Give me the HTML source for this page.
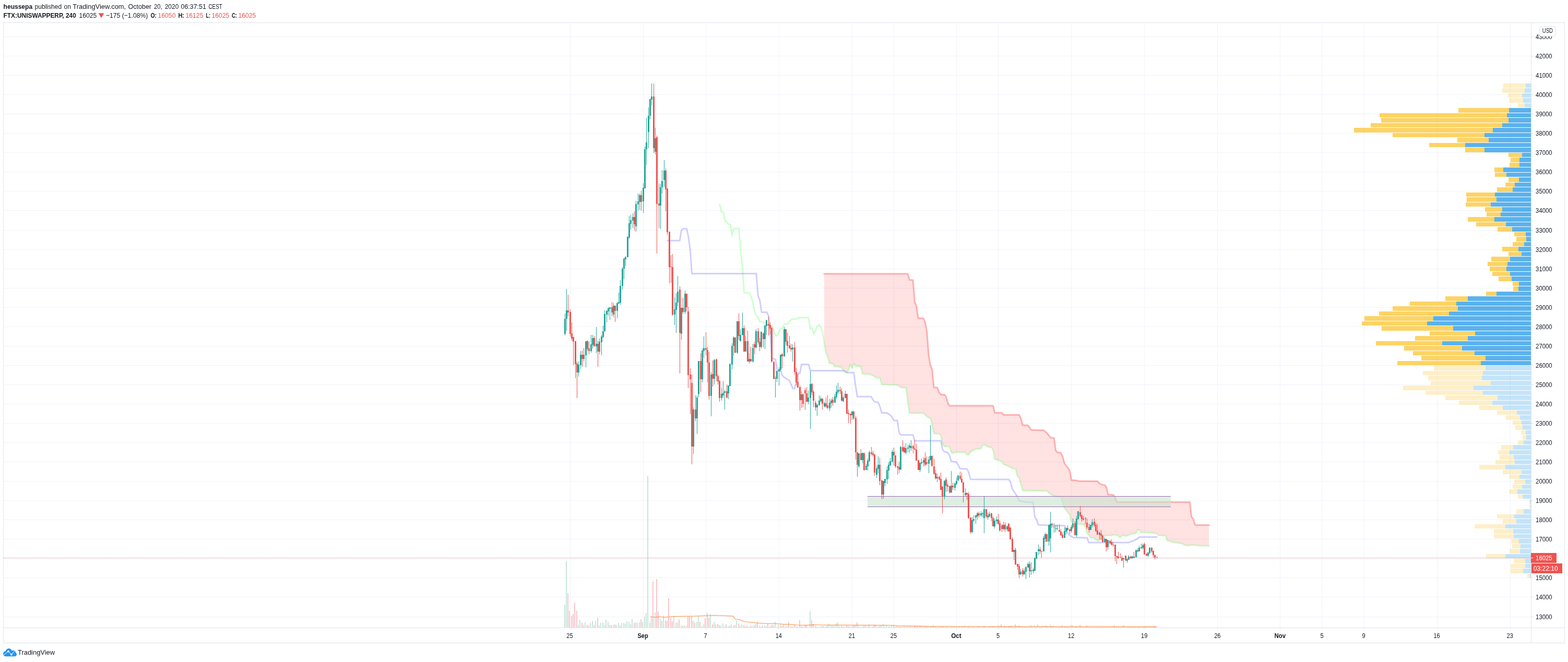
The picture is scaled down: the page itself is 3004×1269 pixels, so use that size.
<!DOCTYPE html>
<html lang="en"><head><meta charset="utf-8"><title>FTX:UNISWAPPERP 240 - TradingView</title>
<style>html,body{margin:0;padding:0;background:#fff;}body{width:3004px;height:1269px;overflow:hidden;font-family:"Liberation Sans",sans-serif;}svg{display:block;}text{font-family:"Liberation Sans",sans-serif;}</style></head><body>
<svg width="3004" height="1269" viewBox="0 0 3004 1269">
<rect width="3004" height="1269" fill="#fff"/>
<g shape-rendering="crispEdges">
<rect x="7" y="1182" width="2926" height="1" fill="#f0f3fa"/>
<rect x="7" y="1144" width="2926" height="1" fill="#f0f3fa"/>
<rect x="7" y="1107" width="2926" height="1" fill="#f0f3fa"/>
<rect x="7" y="1070" width="2926" height="1" fill="#f0f3fa"/>
<rect x="7" y="1033" width="2926" height="1" fill="#f0f3fa"/>
<rect x="7" y="996" width="2926" height="1" fill="#f0f3fa"/>
<rect x="7" y="959" width="2926" height="1" fill="#f0f3fa"/>
<rect x="7" y="922" width="2926" height="1" fill="#f0f3fa"/>
<rect x="7" y="885" width="2926" height="1" fill="#f0f3fa"/>
<rect x="7" y="848" width="2926" height="1" fill="#f0f3fa"/>
<rect x="7" y="811" width="2926" height="1" fill="#f0f3fa"/>
<rect x="7" y="774" width="2926" height="1" fill="#f0f3fa"/>
<rect x="7" y="737" width="2926" height="1" fill="#f0f3fa"/>
<rect x="7" y="700" width="2926" height="1" fill="#f0f3fa"/>
<rect x="7" y="663" width="2926" height="1" fill="#f0f3fa"/>
<rect x="7" y="626" width="2926" height="1" fill="#f0f3fa"/>
<rect x="7" y="589" width="2926" height="1" fill="#f0f3fa"/>
<rect x="7" y="552" width="2926" height="1" fill="#f0f3fa"/>
<rect x="7" y="515" width="2926" height="1" fill="#f0f3fa"/>
<rect x="7" y="478" width="2926" height="1" fill="#f0f3fa"/>
<rect x="7" y="441" width="2926" height="1" fill="#f0f3fa"/>
<rect x="7" y="403" width="2926" height="1" fill="#f0f3fa"/>
<rect x="7" y="366" width="2926" height="1" fill="#f0f3fa"/>
<rect x="7" y="329" width="2926" height="1" fill="#f0f3fa"/>
<rect x="7" y="292" width="2926" height="1" fill="#f0f3fa"/>
<rect x="7" y="255" width="2926" height="1" fill="#f0f3fa"/>
<rect x="7" y="218" width="2926" height="1" fill="#f0f3fa"/>
<rect x="7" y="181" width="2926" height="1" fill="#f0f3fa"/>
<rect x="7" y="144" width="2926" height="1" fill="#f0f3fa"/>
<rect x="7" y="107" width="2926" height="1" fill="#f0f3fa"/>
<rect x="7" y="70" width="2926" height="1" fill="#f0f3fa"/>
<rect x="1092" y="44" width="1" height="1159" fill="#f0f3fa"/>
<rect x="1232" y="44" width="1" height="1159" fill="#f0f3fa"/>
<rect x="1352" y="44" width="1" height="1159" fill="#f0f3fa"/>
<rect x="1492" y="44" width="1" height="1159" fill="#f0f3fa"/>
<rect x="1632" y="44" width="1" height="1159" fill="#f0f3fa"/>
<rect x="1712" y="44" width="1" height="1159" fill="#f0f3fa"/>
<rect x="1832" y="44" width="1" height="1159" fill="#f0f3fa"/>
<rect x="1912" y="44" width="1" height="1159" fill="#f0f3fa"/>
<rect x="2052" y="44" width="1" height="1159" fill="#f0f3fa"/>
<rect x="2192" y="44" width="1" height="1159" fill="#f0f3fa"/>
<rect x="2332" y="44" width="1" height="1159" fill="#f0f3fa"/>
<rect x="2452" y="44" width="1" height="1159" fill="#f0f3fa"/>
<rect x="2532" y="44" width="1" height="1159" fill="#f0f3fa"/>
<rect x="2613" y="44" width="1" height="1159" fill="#f0f3fa"/>
<rect x="2753" y="44" width="1" height="1159" fill="#f0f3fa"/>
<rect x="2893" y="44" width="1" height="1159" fill="#f0f3fa"/>
</g>
<g shape-rendering="crispEdges">
<rect x="1081" y="1159" width="2" height="44" fill="#c8e6dc"/>
<rect x="1084" y="1076" width="2" height="127" fill="#c8e6dc"/>
<rect x="1087" y="1137" width="2" height="66" fill="#fbc5c9"/>
<rect x="1090" y="1171" width="2" height="32" fill="#fbc5c9"/>
<rect x="1094" y="1181" width="2" height="22" fill="#fbc5c9"/>
<rect x="1097" y="1177" width="2" height="26" fill="#fbc5c9"/>
<rect x="1100" y="1155" width="2" height="48" fill="#fbc5c9"/>
<rect x="1104" y="1171" width="2" height="32" fill="#fbc5c9"/>
<rect x="1107" y="1198" width="2" height="5" fill="#c8e6dc"/>
<rect x="1110" y="1189" width="2" height="14" fill="#c8e6dc"/>
<rect x="1114" y="1194" width="2" height="9" fill="#fbc5c9"/>
<rect x="1117" y="1198" width="2" height="5" fill="#c8e6dc"/>
<rect x="1120" y="1193" width="2" height="10" fill="#c8e6dc"/>
<rect x="1124" y="1198" width="2" height="5" fill="#fbc5c9"/>
<rect x="1127" y="1200" width="2" height="3" fill="#fbc5c9"/>
<rect x="1130" y="1194" width="2" height="9" fill="#c8e6dc"/>
<rect x="1134" y="1190" width="2" height="13" fill="#c8e6dc"/>
<rect x="1137" y="1198" width="2" height="5" fill="#fbc5c9"/>
<rect x="1140" y="1190" width="2" height="13" fill="#c8e6dc"/>
<rect x="1144" y="1184" width="2" height="19" fill="#fbc5c9"/>
<rect x="1147" y="1199" width="2" height="4" fill="#c8e6dc"/>
<rect x="1150" y="1194" width="2" height="9" fill="#c8e6dc"/>
<rect x="1154" y="1193" width="2" height="10" fill="#c8e6dc"/>
<rect x="1157" y="1198" width="2" height="5" fill="#c8e6dc"/>
<rect x="1160" y="1188" width="2" height="15" fill="#c8e6dc"/>
<rect x="1164" y="1192" width="2" height="11" fill="#c8e6dc"/>
<rect x="1167" y="1198" width="2" height="5" fill="#c8e6dc"/>
<rect x="1170" y="1198" width="2" height="5" fill="#fbc5c9"/>
<rect x="1174" y="1198" width="2" height="5" fill="#c8e6dc"/>
<rect x="1177" y="1197" width="2" height="6" fill="#fbc5c9"/>
<rect x="1180" y="1198" width="2" height="5" fill="#c8e6dc"/>
<rect x="1184" y="1194" width="2" height="9" fill="#c8e6dc"/>
<rect x="1187" y="1199" width="2" height="4" fill="#c8e6dc"/>
<rect x="1190" y="1194" width="2" height="9" fill="#c8e6dc"/>
<rect x="1194" y="1194" width="2" height="9" fill="#c8e6dc"/>
<rect x="1197" y="1196" width="2" height="7" fill="#c8e6dc"/>
<rect x="1200" y="1191" width="2" height="12" fill="#c8e6dc"/>
<rect x="1204" y="1192" width="2" height="11" fill="#c8e6dc"/>
<rect x="1207" y="1197" width="2" height="6" fill="#c8e6dc"/>
<rect x="1210" y="1187" width="2" height="16" fill="#c8e6dc"/>
<rect x="1214" y="1194" width="2" height="9" fill="#fbc5c9"/>
<rect x="1217" y="1193" width="2" height="10" fill="#c8e6dc"/>
<rect x="1220" y="1194" width="2" height="9" fill="#c8e6dc"/>
<rect x="1224" y="1193" width="2" height="10" fill="#c8e6dc"/>
<rect x="1227" y="1187" width="2" height="16" fill="#fbc5c9"/>
<rect x="1230" y="1192" width="2" height="11" fill="#c8e6dc"/>
<rect x="1234" y="1182" width="2" height="21" fill="#c8e6dc"/>
<rect x="1237" y="1175" width="2" height="28" fill="#c8e6dc"/>
<rect x="1240" y="912" width="2" height="291" fill="#c8e6dc"/>
<rect x="1244" y="1193" width="2" height="10" fill="#c8e6dc"/>
<rect x="1247" y="1182" width="2" height="21" fill="#c8e6dc"/>
<rect x="1250" y="1115" width="2" height="88" fill="#fbc5c9"/>
<rect x="1254" y="1174" width="2" height="29" fill="#c8e6dc"/>
<rect x="1257" y="1110" width="2" height="93" fill="#fbc5c9"/>
<rect x="1260" y="1172" width="2" height="31" fill="#fbc5c9"/>
<rect x="1264" y="1187" width="2" height="16" fill="#c8e6dc"/>
<rect x="1267" y="1190" width="2" height="13" fill="#c8e6dc"/>
<rect x="1270" y="1180" width="2" height="23" fill="#c8e6dc"/>
<rect x="1274" y="1189" width="2" height="14" fill="#fbc5c9"/>
<rect x="1277" y="1190" width="2" height="13" fill="#fbc5c9"/>
<rect x="1280" y="1147" width="2" height="56" fill="#fbc5c9"/>
<rect x="1284" y="1184" width="2" height="19" fill="#fbc5c9"/>
<rect x="1287" y="1191" width="2" height="12" fill="#fbc5c9"/>
<rect x="1290" y="1180" width="2" height="23" fill="#c8e6dc"/>
<rect x="1294" y="1194" width="2" height="9" fill="#c8e6dc"/>
<rect x="1297" y="1193" width="2" height="10" fill="#c8e6dc"/>
<rect x="1300" y="1187" width="2" height="16" fill="#fbc5c9"/>
<rect x="1304" y="1199" width="2" height="4" fill="#c8e6dc"/>
<rect x="1307" y="1200" width="2" height="3" fill="#fbc5c9"/>
<rect x="1310" y="1199" width="2" height="4" fill="#c8e6dc"/>
<rect x="1314" y="1200" width="2" height="3" fill="#fbc5c9"/>
<rect x="1317" y="1182" width="2" height="21" fill="#fbc5c9"/>
<rect x="1320" y="1182" width="2" height="21" fill="#fbc5c9"/>
<rect x="1324" y="1180" width="2" height="23" fill="#fbc5c9"/>
<rect x="1327" y="1190" width="2" height="13" fill="#c8e6dc"/>
<rect x="1330" y="1194" width="2" height="9" fill="#fbc5c9"/>
<rect x="1334" y="1192" width="2" height="11" fill="#c8e6dc"/>
<rect x="1337" y="1181" width="2" height="22" fill="#c8e6dc"/>
<rect x="1340" y="1192" width="2" height="11" fill="#fbc5c9"/>
<rect x="1344" y="1200" width="2" height="3" fill="#c8e6dc"/>
<rect x="1347" y="1197" width="2" height="6" fill="#c8e6dc"/>
<rect x="1350" y="1185" width="2" height="18" fill="#fbc5c9"/>
<rect x="1354" y="1175" width="2" height="28" fill="#fbc5c9"/>
<rect x="1357" y="1184" width="2" height="19" fill="#fbc5c9"/>
<rect x="1360" y="1177" width="2" height="26" fill="#c8e6dc"/>
<rect x="1364" y="1197" width="2" height="6" fill="#fbc5c9"/>
<rect x="1367" y="1192" width="2" height="11" fill="#c8e6dc"/>
<rect x="1370" y="1197" width="2" height="6" fill="#fbc5c9"/>
<rect x="1374" y="1196" width="2" height="7" fill="#fbc5c9"/>
<rect x="1377" y="1198" width="2" height="5" fill="#fbc5c9"/>
<rect x="1380" y="1199" width="2" height="4" fill="#c8e6dc"/>
<rect x="1384" y="1195" width="2" height="8" fill="#c8e6dc"/>
<rect x="1387" y="1201" width="2" height="2" fill="#c8e6dc"/>
<rect x="1390" y="1197" width="2" height="6" fill="#fbc5c9"/>
<rect x="1394" y="1200" width="2" height="3" fill="#c8e6dc"/>
<rect x="1397" y="1199" width="2" height="4" fill="#c8e6dc"/>
<rect x="1400" y="1197" width="2" height="6" fill="#c8e6dc"/>
<rect x="1404" y="1199" width="2" height="4" fill="#c8e6dc"/>
<rect x="1407" y="1198" width="2" height="5" fill="#fbc5c9"/>
<rect x="1410" y="1190" width="2" height="13" fill="#c8e6dc"/>
<rect x="1414" y="1195" width="2" height="8" fill="#fbc5c9"/>
<rect x="1417" y="1200" width="2" height="3" fill="#c8e6dc"/>
<rect x="1420" y="1197" width="2" height="6" fill="#c8e6dc"/>
<rect x="1424" y="1198" width="2" height="5" fill="#fbc5c9"/>
<rect x="1427" y="1201" width="2" height="2" fill="#c8e6dc"/>
<rect x="1430" y="1199" width="2" height="4" fill="#fbc5c9"/>
<rect x="1434" y="1201" width="2" height="2" fill="#c8e6dc"/>
<rect x="1437" y="1200" width="2" height="3" fill="#fbc5c9"/>
<rect x="1440" y="1200" width="2" height="3" fill="#c8e6dc"/>
<rect x="1444" y="1198" width="2" height="5" fill="#fbc5c9"/>
<rect x="1447" y="1196" width="2" height="7" fill="#c8e6dc"/>
<rect x="1450" y="1192" width="2" height="11" fill="#fbc5c9"/>
<rect x="1454" y="1200" width="2" height="3" fill="#fbc5c9"/>
<rect x="1457" y="1201" width="2" height="2" fill="#c8e6dc"/>
<rect x="1460" y="1199" width="2" height="4" fill="#fbc5c9"/>
<rect x="1464" y="1199" width="2" height="4" fill="#c8e6dc"/>
<rect x="1467" y="1200" width="2" height="3" fill="#c8e6dc"/>
<rect x="1470" y="1195" width="2" height="8" fill="#fbc5c9"/>
<rect x="1474" y="1201" width="2" height="2" fill="#fbc5c9"/>
<rect x="1477" y="1198" width="2" height="5" fill="#fbc5c9"/>
<rect x="1480" y="1198" width="2" height="5" fill="#fbc5c9"/>
<rect x="1484" y="1192" width="2" height="11" fill="#c8e6dc"/>
<rect x="1487" y="1202" width="2" height="1" fill="#c8e6dc"/>
<rect x="1490" y="1198" width="2" height="5" fill="#c8e6dc"/>
<rect x="1494" y="1198" width="2" height="5" fill="#c8e6dc"/>
<rect x="1497" y="1200" width="2" height="3" fill="#fbc5c9"/>
<rect x="1500" y="1197" width="2" height="6" fill="#c8e6dc"/>
<rect x="1504" y="1201" width="2" height="2" fill="#fbc5c9"/>
<rect x="1507" y="1201" width="2" height="2" fill="#fbc5c9"/>
<rect x="1510" y="1192" width="2" height="11" fill="#fbc5c9"/>
<rect x="1514" y="1201" width="2" height="2" fill="#fbc5c9"/>
<rect x="1517" y="1201" width="2" height="2" fill="#c8e6dc"/>
<rect x="1521" y="1198" width="2" height="5" fill="#fbc5c9"/>
<rect x="1524" y="1201" width="2" height="2" fill="#fbc5c9"/>
<rect x="1527" y="1201" width="2" height="2" fill="#fbc5c9"/>
<rect x="1531" y="1189" width="2" height="14" fill="#fbc5c9"/>
<rect x="1534" y="1199" width="2" height="4" fill="#c8e6dc"/>
<rect x="1537" y="1201" width="2" height="2" fill="#fbc5c9"/>
<rect x="1541" y="1199" width="2" height="4" fill="#fbc5c9"/>
<rect x="1544" y="1199" width="2" height="4" fill="#fbc5c9"/>
<rect x="1547" y="1202" width="2" height="1" fill="#c8e6dc"/>
<rect x="1551" y="1172" width="2" height="31" fill="#c8e6dc"/>
<rect x="1554" y="1189" width="2" height="14" fill="#fbc5c9"/>
<rect x="1557" y="1196" width="2" height="7" fill="#fbc5c9"/>
<rect x="1561" y="1200" width="2" height="3" fill="#fbc5c9"/>
<rect x="1564" y="1201" width="2" height="2" fill="#c8e6dc"/>
<rect x="1567" y="1202" width="2" height="1" fill="#c8e6dc"/>
<rect x="1571" y="1201" width="2" height="2" fill="#c8e6dc"/>
<rect x="1574" y="1200" width="2" height="3" fill="#fbc5c9"/>
<rect x="1577" y="1200" width="2" height="3" fill="#c8e6dc"/>
<rect x="1581" y="1201" width="2" height="2" fill="#fbc5c9"/>
<rect x="1584" y="1199" width="2" height="4" fill="#fbc5c9"/>
<rect x="1587" y="1195" width="2" height="8" fill="#c8e6dc"/>
<rect x="1591" y="1199" width="2" height="4" fill="#c8e6dc"/>
<rect x="1594" y="1200" width="2" height="3" fill="#fbc5c9"/>
<rect x="1597" y="1199" width="2" height="4" fill="#c8e6dc"/>
<rect x="1601" y="1195" width="2" height="8" fill="#c8e6dc"/>
<rect x="1604" y="1193" width="2" height="10" fill="#c8e6dc"/>
<rect x="1607" y="1201" width="2" height="2" fill="#fbc5c9"/>
<rect x="1611" y="1200" width="2" height="3" fill="#fbc5c9"/>
<rect x="1614" y="1201" width="2" height="2" fill="#c8e6dc"/>
<rect x="1617" y="1201" width="2" height="2" fill="#c8e6dc"/>
<rect x="1621" y="1199" width="2" height="4" fill="#fbc5c9"/>
<rect x="1624" y="1200" width="2" height="3" fill="#fbc5c9"/>
<rect x="1627" y="1201" width="2" height="2" fill="#fbc5c9"/>
<rect x="1631" y="1200" width="2" height="3" fill="#c8e6dc"/>
<rect x="1634" y="1199" width="2" height="4" fill="#fbc5c9"/>
<rect x="1637" y="1199" width="2" height="4" fill="#fbc5c9"/>
<rect x="1641" y="1193" width="2" height="10" fill="#fbc5c9"/>
<rect x="1644" y="1200" width="2" height="3" fill="#c8e6dc"/>
<rect x="1647" y="1202" width="2" height="1" fill="#fbc5c9"/>
<rect x="1651" y="1201" width="2" height="2" fill="#c8e6dc"/>
<rect x="1654" y="1200" width="2" height="3" fill="#fbc5c9"/>
<rect x="1657" y="1199" width="2" height="4" fill="#c8e6dc"/>
<rect x="1661" y="1201" width="2" height="2" fill="#c8e6dc"/>
<rect x="1664" y="1197" width="2" height="6" fill="#c8e6dc"/>
<rect x="1667" y="1202" width="2" height="1" fill="#fbc5c9"/>
<rect x="1671" y="1201" width="2" height="2" fill="#fbc5c9"/>
<rect x="1674" y="1197" width="2" height="6" fill="#fbc5c9"/>
<rect x="1677" y="1199" width="2" height="4" fill="#c8e6dc"/>
<rect x="1681" y="1201" width="2" height="2" fill="#c8e6dc"/>
<rect x="1684" y="1200" width="2" height="3" fill="#fbc5c9"/>
<rect x="1687" y="1198" width="2" height="5" fill="#fbc5c9"/>
<rect x="1691" y="1196" width="2" height="7" fill="#c8e6dc"/>
<rect x="1694" y="1201" width="2" height="2" fill="#c8e6dc"/>
<rect x="1697" y="1198" width="2" height="5" fill="#c8e6dc"/>
<rect x="1701" y="1201" width="2" height="2" fill="#c8e6dc"/>
<rect x="1704" y="1201" width="2" height="2" fill="#c8e6dc"/>
<rect x="1707" y="1199" width="2" height="4" fill="#c8e6dc"/>
<rect x="1711" y="1198" width="2" height="5" fill="#fbc5c9"/>
<rect x="1714" y="1201" width="2" height="2" fill="#fbc5c9"/>
<rect x="1717" y="1200" width="2" height="3" fill="#fbc5c9"/>
<rect x="1721" y="1200" width="2" height="3" fill="#fbc5c9"/>
<rect x="1724" y="1201" width="2" height="2" fill="#c8e6dc"/>
<rect x="1727" y="1201" width="2" height="2" fill="#fbc5c9"/>
<rect x="1731" y="1199" width="2" height="4" fill="#fbc5c9"/>
<rect x="1734" y="1202" width="2" height="1" fill="#c8e6dc"/>
<rect x="1737" y="1200" width="2" height="3" fill="#c8e6dc"/>
<rect x="1741" y="1200" width="2" height="3" fill="#c8e6dc"/>
<rect x="1744" y="1200" width="2" height="3" fill="#c8e6dc"/>
<rect x="1747" y="1202" width="2" height="1" fill="#fbc5c9"/>
<rect x="1751" y="1199" width="2" height="4" fill="#fbc5c9"/>
<rect x="1754" y="1200" width="2" height="3" fill="#fbc5c9"/>
<rect x="1757" y="1201" width="2" height="2" fill="#fbc5c9"/>
<rect x="1761" y="1200" width="2" height="3" fill="#c8e6dc"/>
<rect x="1764" y="1200" width="2" height="3" fill="#c8e6dc"/>
<rect x="1767" y="1202" width="2" height="1" fill="#c8e6dc"/>
<rect x="1771" y="1201" width="2" height="2" fill="#fbc5c9"/>
<rect x="1774" y="1201" width="2" height="2" fill="#fbc5c9"/>
<rect x="1777" y="1201" width="2" height="2" fill="#c8e6dc"/>
<rect x="1781" y="1200" width="2" height="3" fill="#c8e6dc"/>
<rect x="1784" y="1201" width="2" height="2" fill="#fbc5c9"/>
<rect x="1787" y="1199" width="2" height="4" fill="#fbc5c9"/>
<rect x="1791" y="1201" width="2" height="2" fill="#fbc5c9"/>
<rect x="1794" y="1202" width="2" height="1" fill="#c8e6dc"/>
<rect x="1797" y="1202" width="2" height="1" fill="#fbc5c9"/>
<rect x="1801" y="1201" width="2" height="2" fill="#fbc5c9"/>
<rect x="1804" y="1201" width="2" height="2" fill="#fbc5c9"/>
<rect x="1807" y="1201" width="2" height="2" fill="#c8e6dc"/>
<rect x="1811" y="1200" width="2" height="3" fill="#fbc5c9"/>
<rect x="1814" y="1202" width="2" height="1" fill="#fbc5c9"/>
<rect x="1817" y="1202" width="2" height="1" fill="#fbc5c9"/>
<rect x="1821" y="1201" width="2" height="2" fill="#c8e6dc"/>
<rect x="1824" y="1202" width="2" height="1" fill="#fbc5c9"/>
<rect x="1827" y="1201" width="2" height="2" fill="#c8e6dc"/>
<rect x="1831" y="1201" width="2" height="2" fill="#c8e6dc"/>
<rect x="1834" y="1202" width="2" height="1" fill="#c8e6dc"/>
<rect x="1837" y="1201" width="2" height="2" fill="#fbc5c9"/>
<rect x="1841" y="1201" width="2" height="2" fill="#fbc5c9"/>
<rect x="1844" y="1202" width="2" height="1" fill="#fbc5c9"/>
<rect x="1847" y="1199" width="2" height="4" fill="#c8e6dc"/>
<rect x="1851" y="1202" width="2" height="1" fill="#fbc5c9"/>
<rect x="1854" y="1201" width="2" height="2" fill="#fbc5c9"/>
<rect x="1857" y="1201" width="2" height="2" fill="#fbc5c9"/>
<rect x="1861" y="1202" width="2" height="1" fill="#c8e6dc"/>
<rect x="1864" y="1201" width="2" height="2" fill="#c8e6dc"/>
<rect x="1867" y="1202" width="2" height="1" fill="#c8e6dc"/>
<rect x="1871" y="1200" width="2" height="3" fill="#c8e6dc"/>
<rect x="1874" y="1201" width="2" height="2" fill="#fbc5c9"/>
<rect x="1877" y="1201" width="2" height="2" fill="#c8e6dc"/>
<rect x="1881" y="1202" width="2" height="1" fill="#c8e6dc"/>
<rect x="1884" y="1199" width="2" height="4" fill="#c8e6dc"/>
<rect x="1887" y="1201" width="2" height="2" fill="#fbc5c9"/>
<rect x="1891" y="1202" width="2" height="1" fill="#c8e6dc"/>
<rect x="1894" y="1201" width="2" height="2" fill="#c8e6dc"/>
<rect x="1897" y="1200" width="2" height="3" fill="#fbc5c9"/>
<rect x="1901" y="1200" width="2" height="3" fill="#fbc5c9"/>
<rect x="1904" y="1201" width="2" height="2" fill="#c8e6dc"/>
<rect x="1907" y="1202" width="2" height="1" fill="#c8e6dc"/>
<rect x="1911" y="1199" width="2" height="4" fill="#fbc5c9"/>
<rect x="1914" y="1201" width="2" height="2" fill="#fbc5c9"/>
<rect x="1917" y="1197" width="2" height="6" fill="#fbc5c9"/>
<rect x="1921" y="1201" width="2" height="2" fill="#c8e6dc"/>
<rect x="1924" y="1200" width="2" height="3" fill="#fbc5c9"/>
<rect x="1927" y="1201" width="2" height="2" fill="#c8e6dc"/>
<rect x="1931" y="1200" width="2" height="3" fill="#fbc5c9"/>
<rect x="1934" y="1200" width="2" height="3" fill="#fbc5c9"/>
<rect x="1937" y="1199" width="2" height="4" fill="#fbc5c9"/>
<rect x="1941" y="1202" width="2" height="1" fill="#c8e6dc"/>
<rect x="1944" y="1197" width="2" height="6" fill="#fbc5c9"/>
<rect x="1947" y="1201" width="2" height="2" fill="#fbc5c9"/>
<rect x="1951" y="1199" width="2" height="4" fill="#fbc5c9"/>
<rect x="1954" y="1202" width="2" height="1" fill="#c8e6dc"/>
<rect x="1957" y="1201" width="2" height="2" fill="#fbc5c9"/>
<rect x="1961" y="1201" width="2" height="2" fill="#c8e6dc"/>
<rect x="1964" y="1201" width="2" height="2" fill="#c8e6dc"/>
<rect x="1967" y="1201" width="2" height="2" fill="#c8e6dc"/>
<rect x="1971" y="1201" width="2" height="2" fill="#fbc5c9"/>
<rect x="1974" y="1198" width="2" height="5" fill="#c8e6dc"/>
<rect x="1977" y="1201" width="2" height="2" fill="#c8e6dc"/>
<rect x="1981" y="1199" width="2" height="4" fill="#c8e6dc"/>
<rect x="1984" y="1202" width="2" height="1" fill="#c8e6dc"/>
<rect x="1987" y="1197" width="2" height="6" fill="#c8e6dc"/>
<rect x="1991" y="1201" width="2" height="2" fill="#fbc5c9"/>
<rect x="1994" y="1201" width="2" height="2" fill="#c8e6dc"/>
<rect x="1997" y="1199" width="2" height="4" fill="#c8e6dc"/>
<rect x="2001" y="1199" width="2" height="4" fill="#c8e6dc"/>
<rect x="2004" y="1199" width="2" height="4" fill="#fbc5c9"/>
<rect x="2007" y="1201" width="2" height="2" fill="#c8e6dc"/>
<rect x="2011" y="1198" width="2" height="5" fill="#c8e6dc"/>
<rect x="2014" y="1200" width="2" height="3" fill="#fbc5c9"/>
<rect x="2017" y="1199" width="2" height="4" fill="#c8e6dc"/>
<rect x="2021" y="1201" width="2" height="2" fill="#c8e6dc"/>
<rect x="2024" y="1202" width="2" height="1" fill="#c8e6dc"/>
<rect x="2028" y="1201" width="2" height="2" fill="#fbc5c9"/>
<rect x="2031" y="1201" width="2" height="2" fill="#fbc5c9"/>
<rect x="2034" y="1199" width="2" height="4" fill="#fbc5c9"/>
<rect x="2038" y="1200" width="2" height="3" fill="#c8e6dc"/>
<rect x="2041" y="1201" width="2" height="2" fill="#c8e6dc"/>
<rect x="2044" y="1201" width="2" height="2" fill="#fbc5c9"/>
<rect x="2048" y="1202" width="2" height="1" fill="#fbc5c9"/>
<rect x="2051" y="1198" width="2" height="5" fill="#c8e6dc"/>
<rect x="2054" y="1199" width="2" height="4" fill="#c8e6dc"/>
<rect x="2058" y="1201" width="2" height="2" fill="#fbc5c9"/>
<rect x="2061" y="1200" width="2" height="3" fill="#c8e6dc"/>
<rect x="2064" y="1202" width="2" height="1" fill="#c8e6dc"/>
<rect x="2068" y="1198" width="2" height="5" fill="#fbc5c9"/>
<rect x="2071" y="1201" width="2" height="2" fill="#fbc5c9"/>
<rect x="2074" y="1202" width="2" height="1" fill="#fbc5c9"/>
<rect x="2078" y="1201" width="2" height="2" fill="#c8e6dc"/>
<rect x="2081" y="1199" width="2" height="4" fill="#fbc5c9"/>
<rect x="2084" y="1201" width="2" height="2" fill="#fbc5c9"/>
<rect x="2088" y="1201" width="2" height="2" fill="#c8e6dc"/>
<rect x="2091" y="1201" width="2" height="2" fill="#c8e6dc"/>
<rect x="2094" y="1201" width="2" height="2" fill="#fbc5c9"/>
<rect x="2098" y="1201" width="2" height="2" fill="#fbc5c9"/>
<rect x="2101" y="1201" width="2" height="2" fill="#fbc5c9"/>
<rect x="2104" y="1201" width="2" height="2" fill="#c8e6dc"/>
<rect x="2108" y="1201" width="2" height="2" fill="#fbc5c9"/>
<rect x="2111" y="1201" width="2" height="2" fill="#fbc5c9"/>
<rect x="2114" y="1201" width="2" height="2" fill="#c8e6dc"/>
<rect x="2118" y="1201" width="2" height="2" fill="#fbc5c9"/>
<rect x="2121" y="1202" width="2" height="1" fill="#c8e6dc"/>
<rect x="2124" y="1201" width="2" height="2" fill="#fbc5c9"/>
<rect x="2128" y="1201" width="2" height="2" fill="#fbc5c9"/>
<rect x="2131" y="1201" width="2" height="2" fill="#fbc5c9"/>
<rect x="2134" y="1199" width="2" height="4" fill="#fbc5c9"/>
<rect x="2138" y="1201" width="2" height="2" fill="#fbc5c9"/>
<rect x="2141" y="1201" width="2" height="2" fill="#fbc5c9"/>
<rect x="2144" y="1202" width="2" height="1" fill="#fbc5c9"/>
<rect x="2148" y="1202" width="2" height="1" fill="#fbc5c9"/>
<rect x="2151" y="1198" width="2" height="5" fill="#c8e6dc"/>
<rect x="2154" y="1201" width="2" height="2" fill="#fbc5c9"/>
<rect x="2158" y="1201" width="2" height="2" fill="#c8e6dc"/>
<rect x="2161" y="1201" width="2" height="2" fill="#c8e6dc"/>
<rect x="2164" y="1201" width="2" height="2" fill="#fbc5c9"/>
<rect x="2168" y="1201" width="2" height="2" fill="#c8e6dc"/>
<rect x="2171" y="1201" width="2" height="2" fill="#fbc5c9"/>
<rect x="2174" y="1202" width="2" height="1" fill="#c8e6dc"/>
<rect x="2178" y="1202" width="2" height="1" fill="#fbc5c9"/>
<rect x="2181" y="1201" width="2" height="2" fill="#c8e6dc"/>
<rect x="2184" y="1201" width="2" height="2" fill="#c8e6dc"/>
<rect x="2188" y="1201" width="2" height="2" fill="#c8e6dc"/>
<rect x="2191" y="1201" width="2" height="2" fill="#fbc5c9"/>
<rect x="2194" y="1200" width="2" height="3" fill="#fbc5c9"/>
<rect x="2198" y="1201" width="2" height="2" fill="#c8e6dc"/>
<rect x="2201" y="1202" width="2" height="1" fill="#c8e6dc"/>
<rect x="2204" y="1202" width="2" height="1" fill="#fbc5c9"/>
<rect x="2208" y="1201" width="2" height="2" fill="#fbc5c9"/>
<rect x="2211" y="1200" width="2" height="3" fill="#fbc5c9"/>
<rect x="2214" y="1201" width="2" height="2" fill="#fbc5c9"/>
</g>
<polygon points="1579.0,524.7 1739.1,524.7 1742.4,536.4 1749.1,536.8 1752.5,579.0 1755.8,587.1 1759.1,609.9 1769.1,609.9 1772.5,617.6 1775.8,636.0 1779.1,680.1 1782.5,700.4 1785.8,708.5 1789.1,742.6 1795.8,743.0 1799.2,751.8 1802.5,756.6 1809.2,756.6 1812.5,760.2 1815.8,772.3 1819.2,777.7 1902.6,777.7 1905.9,791.3 1919.2,791.3 1922.6,795.3 1952.6,795.3 1955.9,802.0 1959.3,814.7 1969.3,815.3 1975.9,824.1 1999.3,824.7 2006.0,830.3 2012.6,838.8 2019.3,839.7 2022.6,863.1 2026.0,867.2 2032.6,867.8 2036.0,875.6 2039.3,888.1 2049.3,901.3 2052.7,920.3 2062.7,920.9 2066.0,922.3 2102.7,922.4 2106.0,926.7 2112.7,929.4 2116.0,929.8 2119.4,933.1 2122.7,947.8 2126.0,948.5 2132.7,948.5 2136.0,952.4 2139.4,962.5 2279.5,962.5 2282.8,991.0 2286.1,994.7 2289.5,1005.7 2292.8,1006.6 2316.2,1006.6 2316.2,1046.3 2299.5,1046.3 2292.8,1045.2 2282.8,1044.9 2276.1,1045.8 2269.5,1044.9 2266.1,1042.5 2259.5,1041.2 2249.4,1039.7 2239.4,1037.3 2236.1,1036.0 2232.8,1026.8 2219.4,1026.3 2216.1,1022.6 2209.4,1021.7 2202.7,1020.8 2186.1,1020.4 2182.7,1015.8 2179.4,1015.8 2176.1,1022.2 2169.4,1023.2 2162.7,1025.6 2159.4,1027.2 2156.1,1027.8 2152.7,1025.9 2149.4,1026.8 2146.0,1030.5 2142.7,1028.1 2139.4,1025.4 2132.7,1025.6 2129.4,1026.5 2112.7,1026.5 2109.4,1031.4 2106.0,1036.0 2102.7,1036.4 2099.3,1034.2 2096.0,1031.4 2089.3,1030.5 2086.0,1025.9 2082.7,1021.9 2079.3,1010.0 2076.0,1005.3 2066.0,1004.7 2059.3,1001.3 2052.7,1000.6 2049.3,986.6 2039.3,974.1 2036.0,963.1 2032.6,952.8 2026.0,952.2 2019.3,950.6 2012.6,947.5 2006.0,941.3 1985.9,940.6 1959.3,940.3 1955.9,928.8 1952.6,916.3 1949.2,913.1 1945.9,899.0 1939.2,897.6 1929.2,892.2 1922.6,890.2 1919.2,884.0 1912.6,882.5 1905.9,880.4 1902.6,862.6 1899.2,857.8 1892.5,856.4 1885.9,852.7 1882.5,853.4 1879.2,860.3 1869.2,860.8 1859.2,866.4 1855.9,871.8 1852.5,871.8 1849.2,867.0 1829.2,867.0 1825.8,869.1 1822.5,867.3 1819.2,856.6 1809.2,855.4 1805.8,851.2 1802.5,835.5 1799.2,831.6 1789.1,830.9 1785.8,812.5 1782.5,802.2 1775.8,798.5 1769.1,791.9 1742.4,791.9 1739.1,768.4 1735.8,743.4 1725.8,742.6 1719.1,737.9 1689.1,737.1 1685.7,724.6 1679.1,724.3 1672.4,719.9 1665.7,717.6 1652.4,716.7 1649.1,702.5 1639.0,701.6 1635.7,697.2 1632.4,705.7 1629.0,699.4 1625.7,709.6 1622.4,714.2 1615.7,709.8 1612.4,704.1 1605.7,703.3 1599.0,702.4 1595.7,697.2 1589.0,696.5 1585.7,683.8 1582.3,676.5 1579.0,657.0" fill="rgba(255,0,0,0.115)"/>
<polyline points="1245.7,1181.8 1254.3,1183.4 1264.0,1182.2 1271.7,1183.4 1287.3,1181.8 1310.6,1181.4 1330.0,1181.1 1349.4,1180.3 1368.8,1179.7 1388.2,1180.3 1404.3,1181.0 1408.9,1187.2 1414.7,1187.4 1425.2,1191.2 1429.9,1192.2 1443.8,1193.2 1450.8,1194.4 1470.6,1195.3 1484.6,1195.4 1499.7,1196.5 1517.2,1197.1 1527.7,1198.2 1548.7,1198.5 1555.6,1197.6 1581.3,1198.2 1660.0,1198.5 1712.0,1198.6 1720.0,1199.7 1772.0,1200.5 1830.0,1200.9 1950.0,1201.2 2100.0,1201.4 2215.5,1201.5" fill="none" stroke="rgb(255,140,60)" stroke-opacity="0.8" stroke-width="1.3" stroke-linejoin="round"/>
<polyline points="1278.8,461.3 1302.2,461.3 1305.5,441.0 1308.8,438.5 1315.5,438.5 1318.8,453.5 1322.2,478.5 1325.5,524.5 1448.9,524.5 1452.3,567.5 1455.6,574.9 1458.9,598.4 1468.9,598.4 1472.3,605.0 1475.6,637.4 1478.9,687.0 1485.6,688.8 1489.0,709.0 1495.6,711.0 1499.0,720.0 1502.3,723.4 1512.3,729.3 1519.0,744.7 1522.3,744.7 1525.6,733.0 1529.0,715.7 1532.3,715.7 1535.6,698.4 1549.0,698.4 1552.3,710.5 1615.7,710.5 1622.4,714.3 1635.7,714.3 1639.0,739.0 1642.4,760.3 1669.1,760.3 1672.4,766.5 1675.7,770.2 1682.4,771.3 1685.7,779.4 1689.1,791.5 1699.1,791.5 1705.8,796.0 1709.1,799.6 1712.4,805.9 1719.1,805.9 1722.4,829.0 1725.8,833.8 1749.1,833.8 1752.5,844.9 1802.5,844.9 1805.8,861.3 1809.2,865.8 1815.8,867.7 1819.2,873.2 1822.5,884.5 1832.5,885.6 1835.8,891.4 1839.2,898.3 1852.5,899.0 1855.9,905.3 1859.2,918.8 1932.6,919.1 1935.9,924.1 1939.2,936.6 1945.9,947.5 1949.2,952.2 1952.6,960.0 1965.9,962.5 1979.3,963.1 1982.6,991.3 1985.9,995.9 1989.3,1005.9 2006.0,1006.9 2039.3,1007.8 2042.6,1013.1 2046.0,1022.5 2049.3,1026.3 2056.0,1030.3 2082.7,1030.9 2086.0,1040.1 2162.7,1040.1 2166.1,1038.2 2169.4,1037.5 2179.4,1032.7 2182.7,1029.6 2216.1,1029.4" fill="none" stroke="rgba(0,0,255,0.19)" stroke-width="3" stroke-linejoin="miter" stroke-miterlimit="10" stroke-linecap="square"/>
<polyline points="1378.9,392.2 1382.2,405.7 1385.6,406.5 1388.9,422.3 1395.6,429.6 1398.9,430.4 1402.2,449.9 1405.6,438.8 1408.9,437.7 1415.6,438.0 1418.9,479.3 1422.2,508.7 1425.6,560.9 1435.6,561.3 1438.9,567.5 1442.3,580.4 1445.6,596.9 1448.9,605.4 1452.3,608.0 1455.6,616.4 1462.3,617.1 1465.6,622.6 1478.9,624.5 1482.3,631.8 1485.6,643.6 1489.0,643.6 1495.6,630.0 1499.0,629.3 1502.3,621.2 1509.0,621.2 1515.6,613.1 1519.0,611.6 1525.6,611.3 1529.0,608.7 1549.0,608.7 1552.3,630.0 1555.7,628.9 1559.0,640.3 1565.7,625.6 1569.0,622.9 1572.3,627.0 1575.7,635.8 1579.0,657.0 1582.3,676.5 1585.7,683.8 1589.0,696.5 1595.7,697.2 1599.0,702.4 1605.7,703.3 1612.4,704.1 1615.7,709.8 1622.4,714.2 1625.7,709.6 1629.0,699.4 1632.4,705.7 1635.7,697.2 1639.0,701.6 1649.1,702.5 1652.4,716.7 1665.7,717.6 1672.4,719.9 1679.1,724.3 1685.7,724.6 1689.1,737.1 1719.1,737.9 1725.8,742.6 1735.8,743.4 1739.1,768.4 1742.4,791.9 1769.1,791.9 1775.8,798.5 1782.5,802.2 1785.8,812.5 1789.1,830.9 1799.2,831.6 1802.5,835.5 1805.8,851.2 1809.2,855.4 1819.2,856.6 1822.5,867.3 1825.8,869.1 1829.2,867.0 1849.2,867.0 1852.5,871.8 1855.9,871.8 1859.2,866.4 1869.2,860.8 1879.2,860.3 1882.5,853.4 1885.9,852.7 1892.5,856.4 1899.2,857.8 1902.6,862.6 1905.9,880.4 1912.6,882.5 1919.2,884.0 1922.6,890.2 1929.2,892.2 1939.2,897.6 1945.9,899.0 1949.2,913.1 1952.6,916.3 1955.9,928.8 1959.3,940.3 1985.9,940.6 2006.0,941.3 2012.6,947.5 2019.3,950.6 2026.0,952.2 2032.6,952.8 2036.0,963.1 2039.3,974.1 2049.3,986.6 2052.7,1000.6 2059.3,1001.3 2066.0,1004.7 2076.0,1005.3 2079.3,1010.0 2082.7,1021.9 2086.0,1025.9 2089.3,1030.5 2096.0,1031.4 2099.3,1034.2 2102.7,1036.4 2106.0,1036.0 2109.4,1031.4 2112.7,1026.5 2129.4,1026.5 2132.7,1025.6 2139.4,1025.4 2142.7,1028.1 2146.0,1030.5 2149.4,1026.8 2152.7,1025.9 2156.1,1027.8 2159.4,1027.2 2162.7,1025.6 2169.4,1023.2 2176.1,1022.2 2179.4,1015.8 2182.7,1015.8 2186.1,1020.4 2202.7,1020.8 2209.4,1021.7 2216.1,1022.6 2219.4,1026.3 2232.8,1026.8 2236.1,1036.0 2239.4,1037.3 2249.4,1039.7 2259.5,1041.2 2266.1,1042.5 2269.5,1044.9 2276.1,1045.8 2282.8,1044.9 2292.8,1045.2 2299.5,1046.3 2316.2,1046.3" fill="none" stroke="rgba(0,255,0,0.19)" stroke-width="3" stroke-linejoin="miter" stroke-miterlimit="10" stroke-linecap="square"/>
<polyline points="1579.0,524.7 1739.1,524.7 1742.4,536.4 1749.1,536.8 1752.5,579.0 1755.8,587.1 1759.1,609.9 1769.1,609.9 1772.5,617.6 1775.8,636.0 1779.1,680.1 1782.5,700.4 1785.8,708.5 1789.1,742.6 1795.8,743.0 1799.2,751.8 1802.5,756.6 1809.2,756.6 1812.5,760.2 1815.8,772.3 1819.2,777.7 1902.6,777.7 1905.9,791.3 1919.2,791.3 1922.6,795.3 1952.6,795.3 1955.9,802.0 1959.3,814.7 1969.3,815.3 1975.9,824.1 1999.3,824.7 2006.0,830.3 2012.6,838.8 2019.3,839.7 2022.6,863.1 2026.0,867.2 2032.6,867.8 2036.0,875.6 2039.3,888.1 2049.3,901.3 2052.7,920.3 2062.7,920.9 2066.0,922.3 2102.7,922.4 2106.0,926.7 2112.7,929.4 2116.0,929.8 2119.4,933.1 2122.7,947.8 2126.0,948.5 2132.7,948.5 2136.0,952.4 2139.4,962.5 2279.5,962.5 2282.8,991.0 2286.1,994.7 2289.5,1005.7 2292.8,1006.6 2316.2,1006.6" fill="none" stroke="rgba(255,0,0,0.27)" stroke-width="3" stroke-linejoin="miter" stroke-miterlimit="10" stroke-linecap="square"/>
<g shape-rendering="crispEdges">
<rect x="1662" y="952" width="581" height="19" fill="rgb(200,228,205)" fill-opacity="0.6"/>
<rect x="1662" y="951" width="581" height="1" fill="#9c6bb0"/>
<rect x="1662" y="971" width="581" height="1" fill="#9c6bb0"/>
</g>
<g shape-rendering="crispEdges">
<rect x="1082" y="601" width="1" height="42" fill="#26a69a"/>
<rect x="1081" y="611" width="3" height="29" fill="#26a69a"/>
<rect x="1085" y="554" width="1" height="80" fill="#26a69a"/>
<rect x="1084" y="595" width="3" height="16" fill="#26a69a"/>
<rect x="1088" y="565" width="1" height="41" fill="#ef5350"/>
<rect x="1087" y="595" width="3" height="4" fill="#ef5350"/>
<rect x="1092" y="593" width="1" height="52" fill="#ef5350"/>
<rect x="1091" y="598" width="3" height="42" fill="#ef5350"/>
<rect x="1095" y="618" width="1" height="35" fill="#ef5350"/>
<rect x="1094" y="639" width="3" height="10" fill="#ef5350"/>
<rect x="1098" y="646" width="1" height="54" fill="#ef5350"/>
<rect x="1097" y="646" width="3" height="9" fill="#ef5350"/>
<rect x="1102" y="654" width="1" height="71" fill="#ef5350"/>
<rect x="1101" y="654" width="3" height="44" fill="#ef5350"/>
<rect x="1105" y="693" width="1" height="70" fill="#ef5350"/>
<rect x="1104" y="697" width="3" height="17" fill="#ef5350"/>
<rect x="1108" y="693" width="1" height="29" fill="#26a69a"/>
<rect x="1107" y="699" width="3" height="15" fill="#26a69a"/>
<rect x="1112" y="673" width="1" height="34" fill="#26a69a"/>
<rect x="1111" y="680" width="3" height="20" fill="#26a69a"/>
<rect x="1115" y="672" width="1" height="31" fill="#ef5350"/>
<rect x="1114" y="680" width="3" height="8" fill="#ef5350"/>
<rect x="1118" y="667" width="1" height="26" fill="#26a69a"/>
<rect x="1117" y="680" width="3" height="8" fill="#26a69a"/>
<rect x="1122" y="654" width="1" height="50" fill="#26a69a"/>
<rect x="1121" y="654" width="3" height="27" fill="#26a69a"/>
<rect x="1125" y="652" width="1" height="21" fill="#ef5350"/>
<rect x="1124" y="654" width="3" height="15" fill="#ef5350"/>
<rect x="1128" y="655" width="1" height="24" fill="#ef5350"/>
<rect x="1127" y="668" width="3" height="5" fill="#ef5350"/>
<rect x="1132" y="642" width="1" height="34" fill="#26a69a"/>
<rect x="1131" y="660" width="3" height="13" fill="#26a69a"/>
<rect x="1135" y="642" width="1" height="26" fill="#26a69a"/>
<rect x="1134" y="648" width="3" height="13" fill="#26a69a"/>
<rect x="1138" y="644" width="1" height="20" fill="#ef5350"/>
<rect x="1137" y="648" width="3" height="16" fill="#ef5350"/>
<rect x="1142" y="627" width="1" height="50" fill="#26a69a"/>
<rect x="1141" y="659" width="3" height="5" fill="#26a69a"/>
<rect x="1145" y="653" width="1" height="50" fill="#ef5350"/>
<rect x="1144" y="659" width="3" height="15" fill="#ef5350"/>
<rect x="1148" y="649" width="1" height="30" fill="#26a69a"/>
<rect x="1147" y="655" width="3" height="19" fill="#26a69a"/>
<rect x="1152" y="642" width="1" height="39" fill="#26a69a"/>
<rect x="1151" y="645" width="3" height="11" fill="#26a69a"/>
<rect x="1155" y="624" width="1" height="24" fill="#26a69a"/>
<rect x="1154" y="635" width="3" height="11" fill="#26a69a"/>
<rect x="1158" y="595" width="1" height="41" fill="#26a69a"/>
<rect x="1157" y="602" width="3" height="33" fill="#26a69a"/>
<rect x="1162" y="595" width="1" height="23" fill="#26a69a"/>
<rect x="1161" y="596" width="3" height="7" fill="#26a69a"/>
<rect x="1165" y="589" width="1" height="16" fill="#26a69a"/>
<rect x="1164" y="591" width="3" height="6" fill="#26a69a"/>
<rect x="1168" y="589" width="1" height="24" fill="#26a69a"/>
<rect x="1167" y="589" width="3" height="3" fill="#26a69a"/>
<rect x="1172" y="579" width="1" height="27" fill="#ef5350"/>
<rect x="1171" y="589" width="3" height="10" fill="#ef5350"/>
<rect x="1175" y="581" width="1" height="27" fill="#26a69a"/>
<rect x="1174" y="586" width="3" height="17" fill="#26a69a"/>
<rect x="1178" y="586" width="1" height="31" fill="#ef5350"/>
<rect x="1177" y="586" width="3" height="10" fill="#ef5350"/>
<rect x="1182" y="579" width="1" height="31" fill="#26a69a"/>
<rect x="1181" y="581" width="3" height="15" fill="#26a69a"/>
<rect x="1185" y="561" width="1" height="21" fill="#26a69a"/>
<rect x="1184" y="579" width="3" height="3" fill="#26a69a"/>
<rect x="1188" y="537" width="1" height="47" fill="#26a69a"/>
<rect x="1187" y="548" width="3" height="32" fill="#26a69a"/>
<rect x="1192" y="512" width="1" height="43" fill="#26a69a"/>
<rect x="1191" y="515" width="3" height="33" fill="#26a69a"/>
<rect x="1195" y="494" width="1" height="41" fill="#26a69a"/>
<rect x="1194" y="496" width="3" height="19" fill="#26a69a"/>
<rect x="1198" y="491" width="1" height="19" fill="#26a69a"/>
<rect x="1197" y="493" width="3" height="4" fill="#26a69a"/>
<rect x="1202" y="453" width="1" height="40" fill="#26a69a"/>
<rect x="1201" y="454" width="3" height="39" fill="#26a69a"/>
<rect x="1205" y="414" width="1" height="44" fill="#26a69a"/>
<rect x="1204" y="428" width="3" height="27" fill="#26a69a"/>
<rect x="1208" y="412" width="1" height="28" fill="#26a69a"/>
<rect x="1207" y="422" width="3" height="7" fill="#26a69a"/>
<rect x="1212" y="409" width="1" height="28" fill="#26a69a"/>
<rect x="1211" y="416" width="3" height="7" fill="#26a69a"/>
<rect x="1215" y="405" width="1" height="37" fill="#ef5350"/>
<rect x="1214" y="416" width="3" height="14" fill="#ef5350"/>
<rect x="1218" y="385" width="1" height="59" fill="#26a69a"/>
<rect x="1217" y="391" width="3" height="43" fill="#26a69a"/>
<rect x="1222" y="371" width="1" height="33" fill="#26a69a"/>
<rect x="1221" y="386" width="3" height="6" fill="#26a69a"/>
<rect x="1225" y="371" width="1" height="31" fill="#26a69a"/>
<rect x="1224" y="374" width="3" height="13" fill="#26a69a"/>
<rect x="1228" y="366" width="1" height="38" fill="#ef5350"/>
<rect x="1227" y="374" width="3" height="13" fill="#ef5350"/>
<rect x="1232" y="351" width="1" height="57" fill="#26a69a"/>
<rect x="1231" y="360" width="3" height="26" fill="#26a69a"/>
<rect x="1235" y="281" width="1" height="80" fill="#26a69a"/>
<rect x="1234" y="286" width="3" height="75" fill="#26a69a"/>
<rect x="1238" y="226" width="1" height="90" fill="#26a69a"/>
<rect x="1237" y="273" width="3" height="13" fill="#26a69a"/>
<rect x="1242" y="206" width="1" height="78" fill="#26a69a"/>
<rect x="1241" y="222" width="3" height="31" fill="#26a69a"/>
<rect x="1245" y="189" width="1" height="40" fill="#26a69a"/>
<rect x="1244" y="190" width="3" height="32" fill="#26a69a"/>
<rect x="1248" y="160" width="1" height="42" fill="#26a69a"/>
<rect x="1247" y="185" width="3" height="6" fill="#26a69a"/>
<rect x="1252" y="160" width="1" height="133" fill="#ef5350"/>
<rect x="1251" y="185" width="3" height="99" fill="#ef5350"/>
<rect x="1255" y="245" width="1" height="51" fill="#26a69a"/>
<rect x="1254" y="265" width="3" height="26" fill="#26a69a"/>
<rect x="1258" y="260" width="1" height="226" fill="#ef5350"/>
<rect x="1257" y="263" width="3" height="128" fill="#ef5350"/>
<rect x="1262" y="352" width="1" height="85" fill="#ef5350"/>
<rect x="1261" y="390" width="3" height="4" fill="#ef5350"/>
<rect x="1265" y="353" width="1" height="86" fill="#26a69a"/>
<rect x="1264" y="359" width="3" height="35" fill="#26a69a"/>
<rect x="1268" y="326" width="1" height="45" fill="#26a69a"/>
<rect x="1267" y="347" width="3" height="12" fill="#26a69a"/>
<rect x="1272" y="307" width="1" height="51" fill="#26a69a"/>
<rect x="1271" y="327" width="3" height="18" fill="#26a69a"/>
<rect x="1275" y="323" width="1" height="82" fill="#ef5350"/>
<rect x="1274" y="327" width="3" height="36" fill="#ef5350"/>
<rect x="1278" y="360" width="1" height="90" fill="#ef5350"/>
<rect x="1277" y="362" width="3" height="83" fill="#ef5350"/>
<rect x="1282" y="444" width="1" height="99" fill="#ef5350"/>
<rect x="1281" y="444" width="3" height="68" fill="#ef5350"/>
<rect x="1285" y="489" width="1" height="53" fill="#ef5350"/>
<rect x="1284" y="511" width="3" height="1" fill="#ef5350"/>
<rect x="1288" y="487" width="1" height="118" fill="#ef5350"/>
<rect x="1287" y="512" width="3" height="91" fill="#ef5350"/>
<rect x="1292" y="570" width="1" height="53" fill="#26a69a"/>
<rect x="1291" y="593" width="3" height="10" fill="#26a69a"/>
<rect x="1295" y="562" width="1" height="76" fill="#26a69a"/>
<rect x="1294" y="580" width="3" height="14" fill="#26a69a"/>
<rect x="1298" y="529" width="1" height="58" fill="#26a69a"/>
<rect x="1297" y="559" width="3" height="21" fill="#26a69a"/>
<rect x="1302" y="549" width="1" height="167" fill="#ef5350"/>
<rect x="1301" y="555" width="3" height="83" fill="#ef5350"/>
<rect x="1305" y="590" width="1" height="61" fill="#26a69a"/>
<rect x="1304" y="590" width="3" height="50" fill="#26a69a"/>
<rect x="1308" y="571" width="1" height="30" fill="#ef5350"/>
<rect x="1307" y="590" width="3" height="8" fill="#ef5350"/>
<rect x="1312" y="557" width="1" height="45" fill="#26a69a"/>
<rect x="1311" y="563" width="3" height="35" fill="#26a69a"/>
<rect x="1315" y="563" width="1" height="34" fill="#ef5350"/>
<rect x="1314" y="563" width="3" height="26" fill="#ef5350"/>
<rect x="1318" y="588" width="1" height="156" fill="#ef5350"/>
<rect x="1317" y="597" width="3" height="122" fill="#ef5350"/>
<rect x="1322" y="706" width="1" height="88" fill="#ef5350"/>
<rect x="1321" y="718" width="3" height="9" fill="#ef5350"/>
<rect x="1325" y="718" width="1" height="172" fill="#ef5350"/>
<rect x="1324" y="734" width="3" height="122" fill="#ef5350"/>
<rect x="1328" y="781" width="1" height="89" fill="#26a69a"/>
<rect x="1327" y="785" width="3" height="71" fill="#26a69a"/>
<rect x="1332" y="758" width="1" height="49" fill="#ef5350"/>
<rect x="1331" y="785" width="3" height="17" fill="#ef5350"/>
<rect x="1335" y="758" width="1" height="74" fill="#26a69a"/>
<rect x="1334" y="762" width="3" height="40" fill="#26a69a"/>
<rect x="1338" y="692" width="1" height="70" fill="#26a69a"/>
<rect x="1337" y="692" width="3" height="63" fill="#26a69a"/>
<rect x="1342" y="677" width="1" height="74" fill="#ef5350"/>
<rect x="1341" y="692" width="3" height="35" fill="#ef5350"/>
<rect x="1345" y="668" width="1" height="65" fill="#26a69a"/>
<rect x="1344" y="672" width="3" height="55" fill="#26a69a"/>
<rect x="1348" y="645" width="1" height="41" fill="#26a69a"/>
<rect x="1347" y="667" width="3" height="6" fill="#26a69a"/>
<rect x="1352" y="637" width="1" height="44" fill="#ef5350"/>
<rect x="1351" y="667" width="3" height="4" fill="#ef5350"/>
<rect x="1355" y="665" width="1" height="68" fill="#ef5350"/>
<rect x="1354" y="671" width="3" height="24" fill="#ef5350"/>
<rect x="1358" y="675" width="1" height="91" fill="#ef5350"/>
<rect x="1357" y="695" width="3" height="64" fill="#ef5350"/>
<rect x="1362" y="713" width="1" height="85" fill="#26a69a"/>
<rect x="1361" y="718" width="3" height="41" fill="#26a69a"/>
<rect x="1365" y="691" width="1" height="50" fill="#ef5350"/>
<rect x="1364" y="717" width="3" height="9" fill="#ef5350"/>
<rect x="1368" y="688" width="1" height="49" fill="#26a69a"/>
<rect x="1367" y="690" width="3" height="36" fill="#26a69a"/>
<rect x="1372" y="687" width="1" height="44" fill="#ef5350"/>
<rect x="1371" y="689" width="3" height="32" fill="#ef5350"/>
<rect x="1375" y="718" width="1" height="19" fill="#ef5350"/>
<rect x="1374" y="721" width="3" height="10" fill="#ef5350"/>
<rect x="1378" y="729" width="1" height="41" fill="#ef5350"/>
<rect x="1377" y="730" width="3" height="33" fill="#ef5350"/>
<rect x="1382" y="743" width="1" height="25" fill="#26a69a"/>
<rect x="1381" y="755" width="3" height="8" fill="#26a69a"/>
<rect x="1385" y="730" width="1" height="32" fill="#26a69a"/>
<rect x="1384" y="753" width="3" height="5" fill="#26a69a"/>
<rect x="1388" y="747" width="1" height="38" fill="#26a69a"/>
<rect x="1387" y="750" width="3" height="3" fill="#26a69a"/>
<rect x="1392" y="737" width="1" height="27" fill="#ef5350"/>
<rect x="1391" y="750" width="3" height="12" fill="#ef5350"/>
<rect x="1395" y="739" width="1" height="26" fill="#26a69a"/>
<rect x="1394" y="739" width="3" height="15" fill="#26a69a"/>
<rect x="1398" y="696" width="1" height="44" fill="#26a69a"/>
<rect x="1397" y="698" width="3" height="42" fill="#26a69a"/>
<rect x="1402" y="658" width="1" height="50" fill="#26a69a"/>
<rect x="1401" y="663" width="3" height="36" fill="#26a69a"/>
<rect x="1405" y="645" width="1" height="37" fill="#26a69a"/>
<rect x="1404" y="647" width="3" height="16" fill="#26a69a"/>
<rect x="1408" y="647" width="1" height="30" fill="#ef5350"/>
<rect x="1407" y="647" width="3" height="29" fill="#ef5350"/>
<rect x="1412" y="615" width="1" height="63" fill="#26a69a"/>
<rect x="1411" y="616" width="3" height="60" fill="#26a69a"/>
<rect x="1415" y="601" width="1" height="51" fill="#ef5350"/>
<rect x="1414" y="616" width="3" height="28" fill="#ef5350"/>
<rect x="1418" y="631" width="1" height="23" fill="#26a69a"/>
<rect x="1417" y="642" width="3" height="12" fill="#26a69a"/>
<rect x="1422" y="599" width="1" height="44" fill="#26a69a"/>
<rect x="1421" y="629" width="3" height="13" fill="#26a69a"/>
<rect x="1425" y="624" width="1" height="50" fill="#ef5350"/>
<rect x="1424" y="629" width="3" height="45" fill="#ef5350"/>
<rect x="1428" y="644" width="1" height="30" fill="#26a69a"/>
<rect x="1427" y="654" width="3" height="20" fill="#26a69a"/>
<rect x="1432" y="634" width="1" height="59" fill="#ef5350"/>
<rect x="1431" y="654" width="3" height="39" fill="#ef5350"/>
<rect x="1435" y="677" width="1" height="20" fill="#26a69a"/>
<rect x="1434" y="688" width="3" height="5" fill="#26a69a"/>
<rect x="1438" y="665" width="1" height="28" fill="#ef5350"/>
<rect x="1437" y="688" width="3" height="5" fill="#ef5350"/>
<rect x="1442" y="659" width="1" height="36" fill="#26a69a"/>
<rect x="1441" y="667" width="3" height="26" fill="#26a69a"/>
<rect x="1445" y="655" width="1" height="24" fill="#ef5350"/>
<rect x="1444" y="660" width="3" height="6" fill="#ef5350"/>
<rect x="1448" y="631" width="1" height="37" fill="#26a69a"/>
<rect x="1447" y="635" width="3" height="31" fill="#26a69a"/>
<rect x="1452" y="629" width="1" height="31" fill="#ef5350"/>
<rect x="1451" y="635" width="3" height="21" fill="#ef5350"/>
<rect x="1455" y="648" width="1" height="25" fill="#ef5350"/>
<rect x="1454" y="655" width="3" height="10" fill="#ef5350"/>
<rect x="1458" y="636" width="1" height="32" fill="#26a69a"/>
<rect x="1457" y="636" width="3" height="29" fill="#26a69a"/>
<rect x="1462" y="637" width="1" height="29" fill="#ef5350"/>
<rect x="1461" y="639" width="3" height="11" fill="#ef5350"/>
<rect x="1465" y="624" width="1" height="45" fill="#26a69a"/>
<rect x="1464" y="624" width="3" height="26" fill="#26a69a"/>
<rect x="1468" y="613" width="1" height="29" fill="#26a69a"/>
<rect x="1467" y="614" width="3" height="11" fill="#26a69a"/>
<rect x="1472" y="607" width="1" height="36" fill="#ef5350"/>
<rect x="1471" y="621" width="3" height="3" fill="#ef5350"/>
<rect x="1475" y="618" width="1" height="23" fill="#ef5350"/>
<rect x="1474" y="623" width="3" height="7" fill="#ef5350"/>
<rect x="1478" y="626" width="1" height="69" fill="#ef5350"/>
<rect x="1477" y="629" width="3" height="64" fill="#ef5350"/>
<rect x="1482" y="692" width="1" height="35" fill="#ef5350"/>
<rect x="1481" y="694" width="3" height="32" fill="#ef5350"/>
<rect x="1485" y="721" width="1" height="41" fill="#26a69a"/>
<rect x="1484" y="725" width="3" height="1" fill="#26a69a"/>
<rect x="1488" y="711" width="1" height="21" fill="#26a69a"/>
<rect x="1487" y="711" width="3" height="15" fill="#26a69a"/>
<rect x="1492" y="704" width="1" height="35" fill="#26a69a"/>
<rect x="1491" y="708" width="3" height="4" fill="#26a69a"/>
<rect x="1495" y="680" width="1" height="32" fill="#26a69a"/>
<rect x="1494" y="680" width="3" height="29" fill="#26a69a"/>
<rect x="1498" y="677" width="1" height="29" fill="#ef5350"/>
<rect x="1497" y="679" width="3" height="4" fill="#ef5350"/>
<rect x="1502" y="627" width="1" height="57" fill="#26a69a"/>
<rect x="1501" y="631" width="3" height="52" fill="#26a69a"/>
<rect x="1505" y="631" width="1" height="30" fill="#ef5350"/>
<rect x="1504" y="631" width="3" height="24" fill="#ef5350"/>
<rect x="1508" y="638" width="1" height="38" fill="#ef5350"/>
<rect x="1507" y="654" width="3" height="9" fill="#ef5350"/>
<rect x="1512" y="644" width="1" height="24" fill="#ef5350"/>
<rect x="1511" y="662" width="3" height="6" fill="#ef5350"/>
<rect x="1515" y="659" width="1" height="15" fill="#ef5350"/>
<rect x="1514" y="667" width="3" height="3" fill="#ef5350"/>
<rect x="1518" y="660" width="1" height="33" fill="#26a69a"/>
<rect x="1517" y="666" width="3" height="4" fill="#26a69a"/>
<rect x="1522" y="656" width="1" height="62" fill="#ef5350"/>
<rect x="1521" y="666" width="3" height="47" fill="#ef5350"/>
<rect x="1525" y="705" width="1" height="34" fill="#ef5350"/>
<rect x="1524" y="713" width="3" height="20" fill="#ef5350"/>
<rect x="1528" y="717" width="1" height="26" fill="#ef5350"/>
<rect x="1527" y="732" width="3" height="11" fill="#ef5350"/>
<rect x="1532" y="739" width="1" height="48" fill="#ef5350"/>
<rect x="1531" y="742" width="3" height="25" fill="#ef5350"/>
<rect x="1535" y="750" width="1" height="32" fill="#26a69a"/>
<rect x="1534" y="756" width="3" height="11" fill="#26a69a"/>
<rect x="1538" y="754" width="1" height="27" fill="#ef5350"/>
<rect x="1537" y="756" width="3" height="18" fill="#ef5350"/>
<rect x="1542" y="744" width="1" height="42" fill="#ef5350"/>
<rect x="1541" y="748" width="3" height="6" fill="#ef5350"/>
<rect x="1545" y="742" width="1" height="29" fill="#ef5350"/>
<rect x="1544" y="754" width="3" height="16" fill="#ef5350"/>
<rect x="1548" y="749" width="1" height="26" fill="#26a69a"/>
<rect x="1547" y="762" width="3" height="8" fill="#26a69a"/>
<rect x="1552" y="712" width="1" height="110" fill="#26a69a"/>
<rect x="1551" y="736" width="3" height="27" fill="#26a69a"/>
<rect x="1555" y="734" width="1" height="23" fill="#ef5350"/>
<rect x="1554" y="736" width="3" height="16" fill="#ef5350"/>
<rect x="1558" y="748" width="1" height="32" fill="#ef5350"/>
<rect x="1557" y="751" width="3" height="17" fill="#ef5350"/>
<rect x="1562" y="768" width="1" height="19" fill="#ef5350"/>
<rect x="1561" y="772" width="3" height="9" fill="#ef5350"/>
<rect x="1565" y="774" width="1" height="23" fill="#26a69a"/>
<rect x="1564" y="776" width="3" height="5" fill="#26a69a"/>
<rect x="1569" y="758" width="1" height="19" fill="#26a69a"/>
<rect x="1568" y="768" width="3" height="9" fill="#26a69a"/>
<rect x="1572" y="760" width="1" height="11" fill="#26a69a"/>
<rect x="1571" y="764" width="3" height="5" fill="#26a69a"/>
<rect x="1575" y="764" width="1" height="21" fill="#ef5350"/>
<rect x="1574" y="764" width="3" height="10" fill="#ef5350"/>
<rect x="1579" y="770" width="1" height="11" fill="#26a69a"/>
<rect x="1578" y="773" width="3" height="6" fill="#26a69a"/>
<rect x="1582" y="762" width="1" height="20" fill="#ef5350"/>
<rect x="1581" y="773" width="3" height="6" fill="#ef5350"/>
<rect x="1585" y="758" width="1" height="26" fill="#ef5350"/>
<rect x="1584" y="777" width="3" height="5" fill="#ef5350"/>
<rect x="1589" y="765" width="1" height="23" fill="#26a69a"/>
<rect x="1588" y="772" width="3" height="11" fill="#26a69a"/>
<rect x="1592" y="764" width="1" height="17" fill="#26a69a"/>
<rect x="1591" y="768" width="3" height="5" fill="#26a69a"/>
<rect x="1595" y="761" width="1" height="17" fill="#ef5350"/>
<rect x="1594" y="766" width="3" height="6" fill="#ef5350"/>
<rect x="1599" y="755" width="1" height="17" fill="#26a69a"/>
<rect x="1598" y="760" width="3" height="12" fill="#26a69a"/>
<rect x="1602" y="739" width="1" height="26" fill="#26a69a"/>
<rect x="1601" y="751" width="3" height="10" fill="#26a69a"/>
<rect x="1605" y="734" width="1" height="22" fill="#26a69a"/>
<rect x="1604" y="747" width="3" height="5" fill="#26a69a"/>
<rect x="1609" y="741" width="1" height="14" fill="#ef5350"/>
<rect x="1608" y="747" width="3" height="3" fill="#ef5350"/>
<rect x="1612" y="744" width="1" height="25" fill="#ef5350"/>
<rect x="1611" y="750" width="3" height="18" fill="#ef5350"/>
<rect x="1615" y="759" width="1" height="12" fill="#26a69a"/>
<rect x="1614" y="762" width="3" height="7" fill="#26a69a"/>
<rect x="1619" y="749" width="1" height="14" fill="#26a69a"/>
<rect x="1618" y="755" width="3" height="8" fill="#26a69a"/>
<rect x="1622" y="755" width="1" height="38" fill="#ef5350"/>
<rect x="1621" y="755" width="3" height="38" fill="#ef5350"/>
<rect x="1625" y="785" width="1" height="26" fill="#ef5350"/>
<rect x="1624" y="792" width="3" height="2" fill="#ef5350"/>
<rect x="1629" y="793" width="1" height="19" fill="#ef5350"/>
<rect x="1628" y="793" width="3" height="3" fill="#ef5350"/>
<rect x="1632" y="787" width="1" height="18" fill="#26a69a"/>
<rect x="1631" y="789" width="3" height="7" fill="#26a69a"/>
<rect x="1635" y="787" width="1" height="18" fill="#ef5350"/>
<rect x="1634" y="789" width="3" height="13" fill="#ef5350"/>
<rect x="1639" y="797" width="1" height="84" fill="#ef5350"/>
<rect x="1638" y="801" width="3" height="66" fill="#ef5350"/>
<rect x="1642" y="867" width="1" height="47" fill="#ef5350"/>
<rect x="1641" y="867" width="3" height="24" fill="#ef5350"/>
<rect x="1645" y="869" width="1" height="28" fill="#26a69a"/>
<rect x="1644" y="869" width="3" height="25" fill="#26a69a"/>
<rect x="1649" y="861" width="1" height="21" fill="#ef5350"/>
<rect x="1648" y="869" width="3" height="13" fill="#ef5350"/>
<rect x="1652" y="868" width="1" height="20" fill="#26a69a"/>
<rect x="1651" y="868" width="3" height="14" fill="#26a69a"/>
<rect x="1655" y="867" width="1" height="35" fill="#ef5350"/>
<rect x="1654" y="869" width="3" height="32" fill="#ef5350"/>
<rect x="1659" y="889" width="1" height="12" fill="#26a69a"/>
<rect x="1658" y="893" width="3" height="8" fill="#26a69a"/>
<rect x="1662" y="879" width="1" height="23" fill="#26a69a"/>
<rect x="1661" y="883" width="3" height="11" fill="#26a69a"/>
<rect x="1665" y="864" width="1" height="21" fill="#26a69a"/>
<rect x="1664" y="867" width="3" height="17" fill="#26a69a"/>
<rect x="1669" y="857" width="1" height="16" fill="#ef5350"/>
<rect x="1668" y="867" width="3" height="3" fill="#ef5350"/>
<rect x="1672" y="864" width="1" height="11" fill="#ef5350"/>
<rect x="1671" y="869" width="3" height="3" fill="#ef5350"/>
<rect x="1675" y="871" width="1" height="41" fill="#ef5350"/>
<rect x="1674" y="871" width="3" height="35" fill="#ef5350"/>
<rect x="1679" y="894" width="1" height="22" fill="#26a69a"/>
<rect x="1678" y="898" width="3" height="12" fill="#26a69a"/>
<rect x="1682" y="875" width="1" height="32" fill="#26a69a"/>
<rect x="1681" y="891" width="3" height="8" fill="#26a69a"/>
<rect x="1685" y="878" width="1" height="52" fill="#ef5350"/>
<rect x="1684" y="891" width="3" height="31" fill="#ef5350"/>
<rect x="1689" y="920" width="1" height="37" fill="#ef5350"/>
<rect x="1688" y="921" width="3" height="27" fill="#ef5350"/>
<rect x="1692" y="922" width="1" height="34" fill="#26a69a"/>
<rect x="1691" y="922" width="3" height="26" fill="#26a69a"/>
<rect x="1695" y="918" width="1" height="14" fill="#26a69a"/>
<rect x="1694" y="918" width="3" height="8" fill="#26a69a"/>
<rect x="1699" y="894" width="1" height="34" fill="#26a69a"/>
<rect x="1698" y="901" width="3" height="18" fill="#26a69a"/>
<rect x="1702" y="886" width="1" height="32" fill="#26a69a"/>
<rect x="1701" y="891" width="3" height="11" fill="#26a69a"/>
<rect x="1705" y="878" width="1" height="15" fill="#26a69a"/>
<rect x="1704" y="884" width="3" height="8" fill="#26a69a"/>
<rect x="1709" y="862" width="1" height="25" fill="#26a69a"/>
<rect x="1708" y="866" width="3" height="19" fill="#26a69a"/>
<rect x="1712" y="858" width="1" height="34" fill="#ef5350"/>
<rect x="1711" y="866" width="3" height="7" fill="#ef5350"/>
<rect x="1715" y="873" width="1" height="24" fill="#ef5350"/>
<rect x="1714" y="873" width="3" height="21" fill="#ef5350"/>
<rect x="1719" y="893" width="1" height="17" fill="#ef5350"/>
<rect x="1718" y="894" width="3" height="2" fill="#ef5350"/>
<rect x="1722" y="885" width="1" height="22" fill="#ef5350"/>
<rect x="1721" y="895" width="3" height="5" fill="#ef5350"/>
<rect x="1725" y="855" width="1" height="46" fill="#26a69a"/>
<rect x="1724" y="857" width="3" height="43" fill="#26a69a"/>
<rect x="1729" y="844" width="1" height="23" fill="#ef5350"/>
<rect x="1728" y="857" width="3" height="8" fill="#ef5350"/>
<rect x="1732" y="855" width="1" height="13" fill="#ef5350"/>
<rect x="1731" y="858" width="3" height="9" fill="#ef5350"/>
<rect x="1735" y="850" width="1" height="21" fill="#26a69a"/>
<rect x="1734" y="859" width="3" height="9" fill="#26a69a"/>
<rect x="1739" y="853" width="1" height="14" fill="#26a69a"/>
<rect x="1738" y="858" width="3" height="2" fill="#26a69a"/>
<rect x="1742" y="850" width="1" height="18" fill="#26a69a"/>
<rect x="1741" y="854" width="3" height="4" fill="#26a69a"/>
<rect x="1745" y="844" width="1" height="20" fill="#26a69a"/>
<rect x="1744" y="855" width="3" height="4" fill="#26a69a"/>
<rect x="1749" y="852" width="1" height="17" fill="#ef5350"/>
<rect x="1748" y="855" width="3" height="5" fill="#ef5350"/>
<rect x="1752" y="843" width="1" height="20" fill="#ef5350"/>
<rect x="1751" y="860" width="3" height="2" fill="#ef5350"/>
<rect x="1755" y="851" width="1" height="32" fill="#ef5350"/>
<rect x="1754" y="862" width="3" height="21" fill="#ef5350"/>
<rect x="1759" y="882" width="1" height="19" fill="#ef5350"/>
<rect x="1758" y="882" width="3" height="19" fill="#ef5350"/>
<rect x="1762" y="887" width="1" height="18" fill="#26a69a"/>
<rect x="1761" y="887" width="3" height="14" fill="#26a69a"/>
<rect x="1765" y="879" width="1" height="11" fill="#26a69a"/>
<rect x="1764" y="886" width="3" height="2" fill="#26a69a"/>
<rect x="1769" y="877" width="1" height="17" fill="#26a69a"/>
<rect x="1768" y="882" width="3" height="5" fill="#26a69a"/>
<rect x="1772" y="867" width="1" height="27" fill="#ef5350"/>
<rect x="1771" y="878" width="3" height="13" fill="#ef5350"/>
<rect x="1775" y="875" width="1" height="17" fill="#ef5350"/>
<rect x="1774" y="886" width="3" height="3" fill="#ef5350"/>
<rect x="1779" y="875" width="1" height="32" fill="#26a69a"/>
<rect x="1778" y="881" width="3" height="8" fill="#26a69a"/>
<rect x="1782" y="815" width="1" height="68" fill="#26a69a"/>
<rect x="1781" y="874" width="3" height="8" fill="#26a69a"/>
<rect x="1785" y="873" width="1" height="22" fill="#ef5350"/>
<rect x="1784" y="874" width="3" height="19" fill="#ef5350"/>
<rect x="1789" y="880" width="1" height="30" fill="#ef5350"/>
<rect x="1788" y="894" width="3" height="14" fill="#ef5350"/>
<rect x="1792" y="901" width="1" height="18" fill="#ef5350"/>
<rect x="1791" y="907" width="3" height="10" fill="#ef5350"/>
<rect x="1795" y="908" width="1" height="16" fill="#26a69a"/>
<rect x="1794" y="914" width="3" height="3" fill="#26a69a"/>
<rect x="1799" y="912" width="1" height="9" fill="#ef5350"/>
<rect x="1798" y="914" width="3" height="5" fill="#ef5350"/>
<rect x="1802" y="906" width="1" height="33" fill="#ef5350"/>
<rect x="1801" y="918" width="3" height="21" fill="#ef5350"/>
<rect x="1805" y="932" width="1" height="52" fill="#ef5350"/>
<rect x="1804" y="933" width="3" height="19" fill="#ef5350"/>
<rect x="1809" y="920" width="1" height="37" fill="#26a69a"/>
<rect x="1808" y="922" width="3" height="30" fill="#26a69a"/>
<rect x="1812" y="915" width="1" height="28" fill="#ef5350"/>
<rect x="1811" y="919" width="3" height="12" fill="#ef5350"/>
<rect x="1815" y="927" width="1" height="15" fill="#ef5350"/>
<rect x="1814" y="930" width="3" height="3" fill="#ef5350"/>
<rect x="1819" y="931" width="1" height="15" fill="#ef5350"/>
<rect x="1818" y="932" width="3" height="12" fill="#ef5350"/>
<rect x="1822" y="903" width="1" height="42" fill="#26a69a"/>
<rect x="1821" y="931" width="3" height="13" fill="#26a69a"/>
<rect x="1825" y="925" width="1" height="14" fill="#ef5350"/>
<rect x="1824" y="931" width="3" height="3" fill="#ef5350"/>
<rect x="1829" y="925" width="1" height="15" fill="#26a69a"/>
<rect x="1828" y="927" width="3" height="8" fill="#26a69a"/>
<rect x="1832" y="915" width="1" height="15" fill="#26a69a"/>
<rect x="1831" y="922" width="3" height="6" fill="#26a69a"/>
<rect x="1835" y="910" width="1" height="12" fill="#26a69a"/>
<rect x="1834" y="912" width="3" height="9" fill="#26a69a"/>
<rect x="1839" y="904" width="1" height="16" fill="#ef5350"/>
<rect x="1838" y="912" width="3" height="6" fill="#ef5350"/>
<rect x="1842" y="906" width="1" height="19" fill="#ef5350"/>
<rect x="1841" y="918" width="3" height="7" fill="#ef5350"/>
<rect x="1845" y="924" width="1" height="39" fill="#ef5350"/>
<rect x="1844" y="925" width="3" height="19" fill="#ef5350"/>
<rect x="1849" y="936" width="1" height="16" fill="#26a69a"/>
<rect x="1848" y="945" width="3" height="4" fill="#26a69a"/>
<rect x="1852" y="944" width="1" height="14" fill="#ef5350"/>
<rect x="1851" y="945" width="3" height="3" fill="#ef5350"/>
<rect x="1855" y="943" width="1" height="52" fill="#ef5350"/>
<rect x="1854" y="947" width="3" height="46" fill="#ef5350"/>
<rect x="1859" y="992" width="1" height="31" fill="#ef5350"/>
<rect x="1858" y="992" width="3" height="28" fill="#ef5350"/>
<rect x="1862" y="991" width="1" height="31" fill="#26a69a"/>
<rect x="1861" y="997" width="3" height="23" fill="#26a69a"/>
<rect x="1865" y="988" width="1" height="13" fill="#26a69a"/>
<rect x="1864" y="995" width="3" height="3" fill="#26a69a"/>
<rect x="1869" y="987" width="1" height="17" fill="#26a69a"/>
<rect x="1868" y="988" width="3" height="4" fill="#26a69a"/>
<rect x="1872" y="981" width="1" height="15" fill="#26a69a"/>
<rect x="1871" y="984" width="3" height="6" fill="#26a69a"/>
<rect x="1875" y="981" width="1" height="11" fill="#ef5350"/>
<rect x="1874" y="984" width="3" height="4" fill="#ef5350"/>
<rect x="1879" y="980" width="1" height="11" fill="#26a69a"/>
<rect x="1878" y="984" width="3" height="4" fill="#26a69a"/>
<rect x="1882" y="982" width="1" height="9" fill="#26a69a"/>
<rect x="1881" y="984" width="3" height="1" fill="#26a69a"/>
<rect x="1885" y="952" width="1" height="70" fill="#26a69a"/>
<rect x="1884" y="976" width="3" height="17" fill="#26a69a"/>
<rect x="1889" y="976" width="1" height="17" fill="#ef5350"/>
<rect x="1888" y="976" width="3" height="14" fill="#ef5350"/>
<rect x="1892" y="983" width="1" height="13" fill="#26a69a"/>
<rect x="1891" y="988" width="3" height="4" fill="#26a69a"/>
<rect x="1895" y="981" width="1" height="10" fill="#26a69a"/>
<rect x="1894" y="985" width="3" height="5" fill="#26a69a"/>
<rect x="1899" y="983" width="1" height="16" fill="#ef5350"/>
<rect x="1898" y="984" width="3" height="9" fill="#ef5350"/>
<rect x="1902" y="990" width="1" height="19" fill="#ef5350"/>
<rect x="1901" y="993" width="3" height="16" fill="#ef5350"/>
<rect x="1905" y="994" width="1" height="19" fill="#26a69a"/>
<rect x="1904" y="998" width="3" height="11" fill="#26a69a"/>
<rect x="1909" y="990" width="1" height="14" fill="#26a69a"/>
<rect x="1908" y="996" width="3" height="3" fill="#26a69a"/>
<rect x="1912" y="985" width="1" height="21" fill="#ef5350"/>
<rect x="1911" y="996" width="3" height="8" fill="#ef5350"/>
<rect x="1915" y="998" width="1" height="21" fill="#ef5350"/>
<rect x="1914" y="1003" width="3" height="14" fill="#ef5350"/>
<rect x="1919" y="1005" width="1" height="15" fill="#ef5350"/>
<rect x="1918" y="1007" width="3" height="7" fill="#ef5350"/>
<rect x="1922" y="1000" width="1" height="17" fill="#26a69a"/>
<rect x="1921" y="1006" width="3" height="8" fill="#26a69a"/>
<rect x="1925" y="1001" width="1" height="19" fill="#ef5350"/>
<rect x="1924" y="1006" width="3" height="9" fill="#ef5350"/>
<rect x="1929" y="1007" width="1" height="12" fill="#26a69a"/>
<rect x="1928" y="1009" width="3" height="6" fill="#26a69a"/>
<rect x="1932" y="1003" width="1" height="16" fill="#ef5350"/>
<rect x="1931" y="1004" width="3" height="15" fill="#ef5350"/>
<rect x="1935" y="1011" width="1" height="23" fill="#ef5350"/>
<rect x="1934" y="1011" width="3" height="23" fill="#ef5350"/>
<rect x="1939" y="1030" width="1" height="28" fill="#ef5350"/>
<rect x="1938" y="1033" width="3" height="25" fill="#ef5350"/>
<rect x="1942" y="1054" width="1" height="19" fill="#26a69a"/>
<rect x="1941" y="1054" width="3" height="4" fill="#26a69a"/>
<rect x="1945" y="1050" width="1" height="33" fill="#ef5350"/>
<rect x="1944" y="1054" width="3" height="28" fill="#ef5350"/>
<rect x="1949" y="1081" width="1" height="11" fill="#ef5350"/>
<rect x="1948" y="1081" width="3" height="5" fill="#ef5350"/>
<rect x="1952" y="1081" width="1" height="27" fill="#ef5350"/>
<rect x="1951" y="1085" width="3" height="16" fill="#ef5350"/>
<rect x="1955" y="1091" width="1" height="11" fill="#26a69a"/>
<rect x="1954" y="1096" width="3" height="5" fill="#26a69a"/>
<rect x="1959" y="1089" width="1" height="16" fill="#ef5350"/>
<rect x="1958" y="1093" width="3" height="8" fill="#ef5350"/>
<rect x="1962" y="1090" width="1" height="11" fill="#26a69a"/>
<rect x="1961" y="1095" width="3" height="6" fill="#26a69a"/>
<rect x="1965" y="1086" width="1" height="24" fill="#26a69a"/>
<rect x="1964" y="1087" width="3" height="9" fill="#26a69a"/>
<rect x="1969" y="1078" width="1" height="10" fill="#26a69a"/>
<rect x="1968" y="1081" width="3" height="7" fill="#26a69a"/>
<rect x="1972" y="1076" width="1" height="31" fill="#ef5350"/>
<rect x="1971" y="1081" width="3" height="14" fill="#ef5350"/>
<rect x="1975" y="1078" width="1" height="24" fill="#26a69a"/>
<rect x="1974" y="1093" width="3" height="2" fill="#26a69a"/>
<rect x="1979" y="1088" width="1" height="11" fill="#26a69a"/>
<rect x="1978" y="1092" width="3" height="3" fill="#26a69a"/>
<rect x="1982" y="1069" width="1" height="26" fill="#26a69a"/>
<rect x="1981" y="1070" width="3" height="24" fill="#26a69a"/>
<rect x="1985" y="1058" width="1" height="13" fill="#26a69a"/>
<rect x="1984" y="1058" width="3" height="13" fill="#26a69a"/>
<rect x="1989" y="1044" width="1" height="20" fill="#26a69a"/>
<rect x="1988" y="1053" width="3" height="3" fill="#26a69a"/>
<rect x="1992" y="1048" width="1" height="14" fill="#ef5350"/>
<rect x="1991" y="1053" width="3" height="4" fill="#ef5350"/>
<rect x="1995" y="1056" width="1" height="13" fill="#26a69a"/>
<rect x="1994" y="1056" width="3" height="1" fill="#26a69a"/>
<rect x="1999" y="1027" width="1" height="30" fill="#26a69a"/>
<rect x="1998" y="1031" width="3" height="26" fill="#26a69a"/>
<rect x="2002" y="1021" width="1" height="18" fill="#26a69a"/>
<rect x="2001" y="1024" width="3" height="9" fill="#26a69a"/>
<rect x="2005" y="1023" width="1" height="16" fill="#ef5350"/>
<rect x="2004" y="1024" width="3" height="14" fill="#ef5350"/>
<rect x="2009" y="1006" width="1" height="40" fill="#26a69a"/>
<rect x="2008" y="1006" width="3" height="32" fill="#26a69a"/>
<rect x="2012" y="981" width="1" height="78" fill="#26a69a"/>
<rect x="2011" y="1004" width="3" height="28" fill="#26a69a"/>
<rect x="2015" y="1002" width="1" height="10" fill="#ef5350"/>
<rect x="2014" y="1004" width="3" height="2" fill="#ef5350"/>
<rect x="2019" y="1003" width="1" height="18" fill="#26a69a"/>
<rect x="2018" y="1010" width="3" height="1" fill="#26a69a"/>
<rect x="2022" y="1006" width="1" height="14" fill="#26a69a"/>
<rect x="2021" y="1013" width="3" height="1" fill="#26a69a"/>
<rect x="2025" y="1006" width="1" height="10" fill="#26a69a"/>
<rect x="2024" y="1013" width="3" height="1" fill="#26a69a"/>
<rect x="2029" y="1005" width="1" height="15" fill="#ef5350"/>
<rect x="2028" y="1016" width="3" height="3" fill="#ef5350"/>
<rect x="2032" y="1014" width="1" height="13" fill="#ef5350"/>
<rect x="2031" y="1019" width="3" height="7" fill="#ef5350"/>
<rect x="2035" y="1021" width="1" height="11" fill="#ef5350"/>
<rect x="2034" y="1025" width="3" height="6" fill="#ef5350"/>
<rect x="2039" y="1011" width="1" height="20" fill="#26a69a"/>
<rect x="2038" y="1018" width="3" height="13" fill="#26a69a"/>
<rect x="2042" y="1012" width="1" height="13" fill="#26a69a"/>
<rect x="2041" y="1012" width="3" height="7" fill="#26a69a"/>
<rect x="2045" y="1007" width="1" height="10" fill="#ef5350"/>
<rect x="2044" y="1012" width="3" height="4" fill="#ef5350"/>
<rect x="2049" y="1013" width="1" height="11" fill="#ef5350"/>
<rect x="2048" y="1015" width="3" height="3" fill="#ef5350"/>
<rect x="2052" y="1006" width="1" height="15" fill="#26a69a"/>
<rect x="2051" y="1010" width="3" height="8" fill="#26a69a"/>
<rect x="2055" y="994" width="1" height="20" fill="#26a69a"/>
<rect x="2054" y="1003" width="3" height="8" fill="#26a69a"/>
<rect x="2059" y="999" width="1" height="27" fill="#ef5350"/>
<rect x="2058" y="1003" width="3" height="23" fill="#ef5350"/>
<rect x="2062" y="989" width="1" height="40" fill="#26a69a"/>
<rect x="2061" y="994" width="3" height="32" fill="#26a69a"/>
<rect x="2065" y="980" width="1" height="16" fill="#26a69a"/>
<rect x="2064" y="980" width="3" height="15" fill="#26a69a"/>
<rect x="2069" y="970" width="1" height="22" fill="#ef5350"/>
<rect x="2068" y="982" width="3" height="7" fill="#ef5350"/>
<rect x="2072" y="986" width="1" height="14" fill="#ef5350"/>
<rect x="2071" y="988" width="3" height="7" fill="#ef5350"/>
<rect x="2075" y="989" width="1" height="9" fill="#ef5350"/>
<rect x="2074" y="994" width="3" height="2" fill="#ef5350"/>
<rect x="2079" y="991" width="1" height="14" fill="#26a69a"/>
<rect x="2078" y="994" width="3" height="1" fill="#26a69a"/>
<rect x="2082" y="994" width="1" height="20" fill="#ef5350"/>
<rect x="2081" y="1002" width="3" height="9" fill="#ef5350"/>
<rect x="2086" y="1004" width="1" height="17" fill="#ef5350"/>
<rect x="2085" y="1010" width="3" height="6" fill="#ef5350"/>
<rect x="2089" y="1006" width="1" height="10" fill="#26a69a"/>
<rect x="2088" y="1006" width="3" height="10" fill="#26a69a"/>
<rect x="2092" y="995" width="1" height="16" fill="#26a69a"/>
<rect x="2091" y="1001" width="3" height="6" fill="#26a69a"/>
<rect x="2096" y="994" width="1" height="16" fill="#ef5350"/>
<rect x="2095" y="1000" width="3" height="7" fill="#ef5350"/>
<rect x="2099" y="1002" width="1" height="18" fill="#ef5350"/>
<rect x="2098" y="1006" width="3" height="12" fill="#ef5350"/>
<rect x="2102" y="1004" width="1" height="21" fill="#ef5350"/>
<rect x="2101" y="1017" width="3" height="8" fill="#ef5350"/>
<rect x="2106" y="1019" width="1" height="15" fill="#26a69a"/>
<rect x="2105" y="1021" width="3" height="4" fill="#26a69a"/>
<rect x="2109" y="1016" width="1" height="19" fill="#ef5350"/>
<rect x="2108" y="1023" width="3" height="4" fill="#ef5350"/>
<rect x="2112" y="1025" width="1" height="15" fill="#ef5350"/>
<rect x="2111" y="1027" width="3" height="12" fill="#ef5350"/>
<rect x="2116" y="1030" width="1" height="10" fill="#26a69a"/>
<rect x="2115" y="1033" width="3" height="6" fill="#26a69a"/>
<rect x="2119" y="1033" width="1" height="24" fill="#ef5350"/>
<rect x="2118" y="1033" width="3" height="16" fill="#ef5350"/>
<rect x="2122" y="1035" width="1" height="19" fill="#26a69a"/>
<rect x="2121" y="1035" width="3" height="14" fill="#26a69a"/>
<rect x="2126" y="1035" width="1" height="8" fill="#ef5350"/>
<rect x="2125" y="1037" width="3" height="4" fill="#ef5350"/>
<rect x="2129" y="1034" width="1" height="12" fill="#ef5350"/>
<rect x="2128" y="1039" width="3" height="5" fill="#ef5350"/>
<rect x="2132" y="1039" width="1" height="9" fill="#ef5350"/>
<rect x="2131" y="1044" width="3" height="1" fill="#ef5350"/>
<rect x="2136" y="1044" width="1" height="32" fill="#ef5350"/>
<rect x="2135" y="1044" width="3" height="22" fill="#ef5350"/>
<rect x="2139" y="1065" width="1" height="16" fill="#ef5350"/>
<rect x="2138" y="1066" width="3" height="2" fill="#ef5350"/>
<rect x="2142" y="1058" width="1" height="13" fill="#ef5350"/>
<rect x="2141" y="1067" width="3" height="3" fill="#ef5350"/>
<rect x="2146" y="1061" width="1" height="9" fill="#ef5350"/>
<rect x="2145" y="1068" width="3" height="1" fill="#ef5350"/>
<rect x="2149" y="1065" width="1" height="10" fill="#ef5350"/>
<rect x="2148" y="1069" width="3" height="6" fill="#ef5350"/>
<rect x="2152" y="1070" width="1" height="18" fill="#26a69a"/>
<rect x="2151" y="1070" width="3" height="2" fill="#26a69a"/>
<rect x="2156" y="1065" width="1" height="11" fill="#ef5350"/>
<rect x="2155" y="1065" width="3" height="9" fill="#ef5350"/>
<rect x="2159" y="1070" width="1" height="9" fill="#26a69a"/>
<rect x="2158" y="1072" width="3" height="3" fill="#26a69a"/>
<rect x="2162" y="1064" width="1" height="9" fill="#26a69a"/>
<rect x="2161" y="1067" width="3" height="6" fill="#26a69a"/>
<rect x="2166" y="1065" width="1" height="6" fill="#ef5350"/>
<rect x="2165" y="1067" width="3" height="3" fill="#ef5350"/>
<rect x="2169" y="1065" width="1" height="6" fill="#26a69a"/>
<rect x="2168" y="1067" width="3" height="3" fill="#26a69a"/>
<rect x="2172" y="1058" width="1" height="12" fill="#ef5350"/>
<rect x="2171" y="1067" width="3" height="2" fill="#ef5350"/>
<rect x="2176" y="1053" width="1" height="17" fill="#26a69a"/>
<rect x="2175" y="1055" width="3" height="13" fill="#26a69a"/>
<rect x="2179" y="1051" width="1" height="7" fill="#ef5350"/>
<rect x="2178" y="1055" width="3" height="2" fill="#ef5350"/>
<rect x="2182" y="1046" width="1" height="11" fill="#26a69a"/>
<rect x="2181" y="1050" width="3" height="7" fill="#26a69a"/>
<rect x="2186" y="1042" width="1" height="10" fill="#26a69a"/>
<rect x="2185" y="1049" width="3" height="2" fill="#26a69a"/>
<rect x="2189" y="1042" width="1" height="11" fill="#26a69a"/>
<rect x="2188" y="1045" width="3" height="5" fill="#26a69a"/>
<rect x="2192" y="1040" width="1" height="23" fill="#ef5350"/>
<rect x="2191" y="1043" width="3" height="20" fill="#ef5350"/>
<rect x="2196" y="1060" width="1" height="6" fill="#ef5350"/>
<rect x="2195" y="1062" width="3" height="3" fill="#ef5350"/>
<rect x="2199" y="1059" width="1" height="9" fill="#26a69a"/>
<rect x="2198" y="1059" width="3" height="6" fill="#26a69a"/>
<rect x="2202" y="1049" width="1" height="13" fill="#26a69a"/>
<rect x="2201" y="1050" width="3" height="10" fill="#26a69a"/>
<rect x="2206" y="1049" width="1" height="11" fill="#ef5350"/>
<rect x="2205" y="1050" width="3" height="7" fill="#ef5350"/>
<rect x="2209" y="1056" width="1" height="13" fill="#ef5350"/>
<rect x="2208" y="1056" width="3" height="8" fill="#ef5350"/>
<rect x="2212" y="1063" width="1" height="9" fill="#ef5350"/>
<rect x="2211" y="1064" width="3" height="5" fill="#ef5350"/>
<rect x="2216" y="1066" width="1" height="4" fill="#ef5350"/>
<rect x="2215" y="1069" width="3" height="1" fill="#ef5350"/>
</g>
<g shape-rendering="crispEdges">
<rect x="2880" y="160" width="43" height="8" fill="rgb(251,193,35)" fill-opacity="0.25"/>
<rect x="2923" y="160" width="10" height="8" fill="rgb(21,146,230)" fill-opacity="0.25"/>
<rect x="2878" y="169" width="43" height="9" fill="rgb(251,193,35)" fill-opacity="0.25"/>
<rect x="2921" y="169" width="12" height="9" fill="rgb(21,146,230)" fill-opacity="0.25"/>
<rect x="2889" y="179" width="27" height="8" fill="rgb(251,193,35)" fill-opacity="0.25"/>
<rect x="2916" y="179" width="17" height="8" fill="rgb(21,146,230)" fill-opacity="0.25"/>
<rect x="2891" y="188" width="27" height="9" fill="rgb(251,193,35)" fill-opacity="0.25"/>
<rect x="2918" y="188" width="15" height="9" fill="rgb(21,146,230)" fill-opacity="0.25"/>
<rect x="2908" y="198" width="13" height="8" fill="rgb(251,193,35)" fill-opacity="0.25"/>
<rect x="2921" y="198" width="12" height="8" fill="rgb(21,146,230)" fill-opacity="0.25"/>
<rect x="2794" y="207" width="97" height="9" fill="rgb(251,193,35)" fill-opacity="0.7"/>
<rect x="2891" y="207" width="42" height="9" fill="rgb(21,146,230)" fill-opacity="0.7"/>
<rect x="2643" y="217" width="244" height="8" fill="rgb(251,193,35)" fill-opacity="0.7"/>
<rect x="2887" y="217" width="46" height="8" fill="rgb(21,146,230)" fill-opacity="0.7"/>
<rect x="2646" y="226" width="244" height="9" fill="rgb(251,193,35)" fill-opacity="0.7"/>
<rect x="2890" y="226" width="43" height="9" fill="rgb(21,146,230)" fill-opacity="0.7"/>
<rect x="2626" y="236" width="252" height="8" fill="rgb(251,193,35)" fill-opacity="0.7"/>
<rect x="2878" y="236" width="55" height="8" fill="rgb(21,146,230)" fill-opacity="0.7"/>
<rect x="2594" y="245" width="266" height="9" fill="rgb(251,193,35)" fill-opacity="0.7"/>
<rect x="2860" y="245" width="73" height="9" fill="rgb(21,146,230)" fill-opacity="0.7"/>
<rect x="2668" y="255" width="176" height="8" fill="rgb(251,193,35)" fill-opacity="0.7"/>
<rect x="2844" y="255" width="89" height="8" fill="rgb(21,146,230)" fill-opacity="0.7"/>
<rect x="2792" y="264" width="60" height="9" fill="rgb(251,193,35)" fill-opacity="0.7"/>
<rect x="2852" y="264" width="81" height="9" fill="rgb(21,146,230)" fill-opacity="0.7"/>
<rect x="2738" y="274" width="69" height="8" fill="rgb(251,193,35)" fill-opacity="0.7"/>
<rect x="2807" y="274" width="126" height="8" fill="rgb(21,146,230)" fill-opacity="0.7"/>
<rect x="2807" y="283" width="37" height="9" fill="rgb(251,193,35)" fill-opacity="0.7"/>
<rect x="2844" y="283" width="89" height="9" fill="rgb(21,146,230)" fill-opacity="0.7"/>
<rect x="2890" y="293" width="26" height="8" fill="rgb(251,193,35)" fill-opacity="0.7"/>
<rect x="2916" y="293" width="17" height="8" fill="rgb(21,146,230)" fill-opacity="0.7"/>
<rect x="2894" y="302" width="17" height="9" fill="rgb(251,193,35)" fill-opacity="0.7"/>
<rect x="2911" y="302" width="22" height="9" fill="rgb(21,146,230)" fill-opacity="0.7"/>
<rect x="2892" y="312" width="19" height="8" fill="rgb(251,193,35)" fill-opacity="0.7"/>
<rect x="2911" y="312" width="22" height="8" fill="rgb(21,146,230)" fill-opacity="0.7"/>
<rect x="2863" y="321" width="17" height="9" fill="rgb(251,193,35)" fill-opacity="0.7"/>
<rect x="2880" y="321" width="53" height="9" fill="rgb(21,146,230)" fill-opacity="0.7"/>
<rect x="2864" y="331" width="22" height="8" fill="rgb(251,193,35)" fill-opacity="0.7"/>
<rect x="2886" y="331" width="47" height="8" fill="rgb(21,146,230)" fill-opacity="0.7"/>
<rect x="2890" y="340" width="20" height="9" fill="rgb(251,193,35)" fill-opacity="0.7"/>
<rect x="2910" y="340" width="23" height="9" fill="rgb(21,146,230)" fill-opacity="0.7"/>
<rect x="2884" y="350" width="18" height="8" fill="rgb(251,193,35)" fill-opacity="0.7"/>
<rect x="2902" y="350" width="31" height="8" fill="rgb(21,146,230)" fill-opacity="0.7"/>
<rect x="2868" y="359" width="30" height="9" fill="rgb(251,193,35)" fill-opacity="0.7"/>
<rect x="2898" y="359" width="35" height="9" fill="rgb(21,146,230)" fill-opacity="0.7"/>
<rect x="2809" y="369" width="55" height="8" fill="rgb(251,193,35)" fill-opacity="0.7"/>
<rect x="2864" y="369" width="69" height="8" fill="rgb(21,146,230)" fill-opacity="0.7"/>
<rect x="2810" y="378" width="57" height="9" fill="rgb(251,193,35)" fill-opacity="0.7"/>
<rect x="2867" y="378" width="66" height="9" fill="rgb(21,146,230)" fill-opacity="0.7"/>
<rect x="2808" y="388" width="48" height="8" fill="rgb(251,193,35)" fill-opacity="0.7"/>
<rect x="2856" y="388" width="77" height="8" fill="rgb(21,146,230)" fill-opacity="0.7"/>
<rect x="2845" y="397" width="33" height="9" fill="rgb(251,193,35)" fill-opacity="0.7"/>
<rect x="2878" y="397" width="55" height="9" fill="rgb(21,146,230)" fill-opacity="0.7"/>
<rect x="2848" y="407" width="27" height="8" fill="rgb(251,193,35)" fill-opacity="0.7"/>
<rect x="2875" y="407" width="58" height="8" fill="rgb(21,146,230)" fill-opacity="0.7"/>
<rect x="2812" y="416" width="51" height="9" fill="rgb(251,193,35)" fill-opacity="0.7"/>
<rect x="2863" y="416" width="70" height="9" fill="rgb(21,146,230)" fill-opacity="0.7"/>
<rect x="2828" y="426" width="57" height="8" fill="rgb(251,193,35)" fill-opacity="0.7"/>
<rect x="2885" y="426" width="48" height="8" fill="rgb(21,146,230)" fill-opacity="0.7"/>
<rect x="2869" y="435" width="28" height="9" fill="rgb(251,193,35)" fill-opacity="0.7"/>
<rect x="2897" y="435" width="36" height="9" fill="rgb(21,146,230)" fill-opacity="0.7"/>
<rect x="2901" y="445" width="22" height="8" fill="rgb(251,193,35)" fill-opacity="0.7"/>
<rect x="2923" y="445" width="10" height="8" fill="rgb(21,146,230)" fill-opacity="0.7"/>
<rect x="2905" y="454" width="19" height="9" fill="rgb(251,193,35)" fill-opacity="0.7"/>
<rect x="2924" y="454" width="9" height="9" fill="rgb(21,146,230)" fill-opacity="0.7"/>
<rect x="2898" y="464" width="22" height="8" fill="rgb(251,193,35)" fill-opacity="0.7"/>
<rect x="2920" y="464" width="13" height="8" fill="rgb(21,146,230)" fill-opacity="0.7"/>
<rect x="2878" y="473" width="31" height="9" fill="rgb(251,193,35)" fill-opacity="0.7"/>
<rect x="2909" y="473" width="24" height="9" fill="rgb(21,146,230)" fill-opacity="0.7"/>
<rect x="2890" y="483" width="25" height="8" fill="rgb(251,193,35)" fill-opacity="0.7"/>
<rect x="2915" y="483" width="18" height="8" fill="rgb(21,146,230)" fill-opacity="0.7"/>
<rect x="2857" y="492" width="36" height="9" fill="rgb(251,193,35)" fill-opacity="0.7"/>
<rect x="2893" y="492" width="40" height="9" fill="rgb(21,146,230)" fill-opacity="0.7"/>
<rect x="2850" y="502" width="38" height="8" fill="rgb(251,193,35)" fill-opacity="0.7"/>
<rect x="2888" y="502" width="45" height="8" fill="rgb(21,146,230)" fill-opacity="0.7"/>
<rect x="2854" y="511" width="32" height="9" fill="rgb(251,193,35)" fill-opacity="0.7"/>
<rect x="2886" y="511" width="47" height="9" fill="rgb(21,146,230)" fill-opacity="0.7"/>
<rect x="2859" y="521" width="34" height="8" fill="rgb(251,193,35)" fill-opacity="0.7"/>
<rect x="2893" y="521" width="40" height="8" fill="rgb(21,146,230)" fill-opacity="0.7"/>
<rect x="2871" y="530" width="25" height="9" fill="rgb(251,193,35)" fill-opacity="0.7"/>
<rect x="2896" y="530" width="37" height="9" fill="rgb(21,146,230)" fill-opacity="0.7"/>
<rect x="2898" y="540" width="12" height="8" fill="rgb(251,193,35)" fill-opacity="0.7"/>
<rect x="2910" y="540" width="23" height="8" fill="rgb(21,146,230)" fill-opacity="0.7"/>
<rect x="2899" y="549" width="10" height="9" fill="rgb(251,193,35)" fill-opacity="0.7"/>
<rect x="2909" y="549" width="24" height="9" fill="rgb(21,146,230)" fill-opacity="0.7"/>
<rect x="2847" y="559" width="20" height="8" fill="rgb(251,193,35)" fill-opacity="0.7"/>
<rect x="2867" y="559" width="66" height="8" fill="rgb(21,146,230)" fill-opacity="0.7"/>
<rect x="2769" y="568" width="43" height="9" fill="rgb(251,193,35)" fill-opacity="0.7"/>
<rect x="2812" y="568" width="121" height="9" fill="rgb(21,146,230)" fill-opacity="0.7"/>
<rect x="2701" y="578" width="89" height="8" fill="rgb(251,193,35)" fill-opacity="0.7"/>
<rect x="2790" y="578" width="143" height="8" fill="rgb(21,146,230)" fill-opacity="0.7"/>
<rect x="2668" y="587" width="125" height="9" fill="rgb(251,193,35)" fill-opacity="0.7"/>
<rect x="2793" y="587" width="140" height="9" fill="rgb(21,146,230)" fill-opacity="0.7"/>
<rect x="2642" y="597" width="134" height="8" fill="rgb(251,193,35)" fill-opacity="0.7"/>
<rect x="2776" y="597" width="157" height="8" fill="rgb(21,146,230)" fill-opacity="0.7"/>
<rect x="2614" y="606" width="132" height="9" fill="rgb(251,193,35)" fill-opacity="0.7"/>
<rect x="2746" y="606" width="187" height="9" fill="rgb(21,146,230)" fill-opacity="0.7"/>
<rect x="2609" y="616" width="125" height="8" fill="rgb(251,193,35)" fill-opacity="0.7"/>
<rect x="2734" y="616" width="199" height="8" fill="rgb(21,146,230)" fill-opacity="0.7"/>
<rect x="2647" y="625" width="137" height="9" fill="rgb(251,193,35)" fill-opacity="0.7"/>
<rect x="2784" y="625" width="149" height="9" fill="rgb(21,146,230)" fill-opacity="0.7"/>
<rect x="2739" y="635" width="87" height="8" fill="rgb(251,193,35)" fill-opacity="0.7"/>
<rect x="2826" y="635" width="107" height="8" fill="rgb(21,146,230)" fill-opacity="0.7"/>
<rect x="2711" y="644" width="101" height="9" fill="rgb(251,193,35)" fill-opacity="0.7"/>
<rect x="2812" y="644" width="121" height="9" fill="rgb(21,146,230)" fill-opacity="0.7"/>
<rect x="2636" y="654" width="127" height="8" fill="rgb(251,193,35)" fill-opacity="0.7"/>
<rect x="2763" y="654" width="170" height="8" fill="rgb(21,146,230)" fill-opacity="0.7"/>
<rect x="2690" y="663" width="111" height="9" fill="rgb(251,193,35)" fill-opacity="0.7"/>
<rect x="2801" y="663" width="132" height="9" fill="rgb(21,146,230)" fill-opacity="0.7"/>
<rect x="2707" y="673" width="118" height="8" fill="rgb(251,193,35)" fill-opacity="0.7"/>
<rect x="2825" y="673" width="108" height="8" fill="rgb(21,146,230)" fill-opacity="0.7"/>
<rect x="2723" y="682" width="123" height="9" fill="rgb(251,193,35)" fill-opacity="0.7"/>
<rect x="2846" y="682" width="87" height="9" fill="rgb(21,146,230)" fill-opacity="0.7"/>
<rect x="2677" y="692" width="160" height="8" fill="rgb(251,193,35)" fill-opacity="0.7"/>
<rect x="2837" y="692" width="96" height="8" fill="rgb(21,146,230)" fill-opacity="0.7"/>
<rect x="2747" y="701" width="99" height="9" fill="rgb(251,193,35)" fill-opacity="0.25"/>
<rect x="2846" y="701" width="87" height="9" fill="rgb(21,146,230)" fill-opacity="0.25"/>
<rect x="2726" y="711" width="115" height="8" fill="rgb(251,193,35)" fill-opacity="0.25"/>
<rect x="2841" y="711" width="92" height="8" fill="rgb(21,146,230)" fill-opacity="0.25"/>
<rect x="2736" y="720" width="103" height="9" fill="rgb(251,193,35)" fill-opacity="0.25"/>
<rect x="2839" y="720" width="94" height="9" fill="rgb(21,146,230)" fill-opacity="0.25"/>
<rect x="2741" y="730" width="115" height="8" fill="rgb(251,193,35)" fill-opacity="0.25"/>
<rect x="2856" y="730" width="77" height="8" fill="rgb(21,146,230)" fill-opacity="0.25"/>
<rect x="2688" y="739" width="135" height="9" fill="rgb(251,193,35)" fill-opacity="0.25"/>
<rect x="2823" y="739" width="110" height="9" fill="rgb(21,146,230)" fill-opacity="0.25"/>
<rect x="2731" y="749" width="110" height="8" fill="rgb(251,193,35)" fill-opacity="0.25"/>
<rect x="2841" y="749" width="92" height="8" fill="rgb(21,146,230)" fill-opacity="0.25"/>
<rect x="2769" y="758" width="100" height="9" fill="rgb(251,193,35)" fill-opacity="0.25"/>
<rect x="2869" y="758" width="64" height="9" fill="rgb(21,146,230)" fill-opacity="0.25"/>
<rect x="2795" y="768" width="64" height="8" fill="rgb(251,193,35)" fill-opacity="0.25"/>
<rect x="2859" y="768" width="74" height="8" fill="rgb(21,146,230)" fill-opacity="0.25"/>
<rect x="2834" y="777" width="45" height="9" fill="rgb(251,193,35)" fill-opacity="0.25"/>
<rect x="2879" y="777" width="54" height="9" fill="rgb(21,146,230)" fill-opacity="0.25"/>
<rect x="2868" y="787" width="38" height="8" fill="rgb(251,193,35)" fill-opacity="0.25"/>
<rect x="2906" y="787" width="27" height="8" fill="rgb(21,146,230)" fill-opacity="0.25"/>
<rect x="2885" y="796" width="27" height="9" fill="rgb(251,193,35)" fill-opacity="0.25"/>
<rect x="2912" y="796" width="21" height="9" fill="rgb(21,146,230)" fill-opacity="0.25"/>
<rect x="2898" y="806" width="17" height="8" fill="rgb(251,193,35)" fill-opacity="0.25"/>
<rect x="2915" y="806" width="18" height="8" fill="rgb(21,146,230)" fill-opacity="0.25"/>
<rect x="2903" y="815" width="14" height="9" fill="rgb(251,193,35)" fill-opacity="0.25"/>
<rect x="2917" y="815" width="16" height="9" fill="rgb(21,146,230)" fill-opacity="0.25"/>
<rect x="2914" y="825" width="9" height="8" fill="rgb(251,193,35)" fill-opacity="0.25"/>
<rect x="2923" y="825" width="10" height="8" fill="rgb(21,146,230)" fill-opacity="0.25"/>
<rect x="2917" y="834" width="7" height="9" fill="rgb(251,193,35)" fill-opacity="0.25"/>
<rect x="2924" y="834" width="9" height="9" fill="rgb(21,146,230)" fill-opacity="0.25"/>
<rect x="2908" y="844" width="11" height="8" fill="rgb(251,193,35)" fill-opacity="0.25"/>
<rect x="2919" y="844" width="14" height="8" fill="rgb(21,146,230)" fill-opacity="0.25"/>
<rect x="2876" y="853" width="23" height="9" fill="rgb(251,193,35)" fill-opacity="0.25"/>
<rect x="2899" y="853" width="34" height="9" fill="rgb(21,146,230)" fill-opacity="0.25"/>
<rect x="2870" y="863" width="22" height="8" fill="rgb(251,193,35)" fill-opacity="0.25"/>
<rect x="2892" y="863" width="41" height="8" fill="rgb(21,146,230)" fill-opacity="0.25"/>
<rect x="2873" y="872" width="27" height="9" fill="rgb(251,193,35)" fill-opacity="0.25"/>
<rect x="2900" y="872" width="33" height="9" fill="rgb(21,146,230)" fill-opacity="0.25"/>
<rect x="2865" y="882" width="37" height="8" fill="rgb(251,193,35)" fill-opacity="0.25"/>
<rect x="2902" y="882" width="31" height="8" fill="rgb(21,146,230)" fill-opacity="0.25"/>
<rect x="2834" y="891" width="50" height="9" fill="rgb(251,193,35)" fill-opacity="0.25"/>
<rect x="2884" y="891" width="49" height="9" fill="rgb(21,146,230)" fill-opacity="0.25"/>
<rect x="2879" y="901" width="36" height="8" fill="rgb(251,193,35)" fill-opacity="0.25"/>
<rect x="2915" y="901" width="18" height="8" fill="rgb(21,146,230)" fill-opacity="0.25"/>
<rect x="2891" y="910" width="20" height="8" fill="rgb(251,193,35)" fill-opacity="0.25"/>
<rect x="2911" y="910" width="22" height="8" fill="rgb(21,146,230)" fill-opacity="0.25"/>
<rect x="2901" y="919" width="21" height="9" fill="rgb(251,193,35)" fill-opacity="0.25"/>
<rect x="2922" y="919" width="11" height="9" fill="rgb(21,146,230)" fill-opacity="0.25"/>
<rect x="2898" y="929" width="18" height="8" fill="rgb(251,193,35)" fill-opacity="0.25"/>
<rect x="2916" y="929" width="17" height="8" fill="rgb(21,146,230)" fill-opacity="0.25"/>
<rect x="2891" y="938" width="16" height="9" fill="rgb(251,193,35)" fill-opacity="0.25"/>
<rect x="2907" y="938" width="26" height="9" fill="rgb(21,146,230)" fill-opacity="0.25"/>
<rect x="2908" y="948" width="9" height="8" fill="rgb(251,193,35)" fill-opacity="0.25"/>
<rect x="2917" y="948" width="16" height="8" fill="rgb(21,146,230)" fill-opacity="0.25"/>
<rect x="2930" y="957" width="1" height="9" fill="rgb(251,193,35)" fill-opacity="0.25"/>
<rect x="2931" y="957" width="2" height="9" fill="rgb(21,146,230)" fill-opacity="0.25"/>
<rect x="2930" y="967" width="2" height="8" fill="rgb(251,193,35)" fill-opacity="0.25"/>
<rect x="2932" y="967" width="1" height="8" fill="rgb(21,146,230)" fill-opacity="0.25"/>
<rect x="2905" y="976" width="14" height="9" fill="rgb(251,193,35)" fill-opacity="0.25"/>
<rect x="2919" y="976" width="14" height="9" fill="rgb(21,146,230)" fill-opacity="0.25"/>
<rect x="2868" y="986" width="33" height="8" fill="rgb(251,193,35)" fill-opacity="0.25"/>
<rect x="2901" y="986" width="32" height="8" fill="rgb(21,146,230)" fill-opacity="0.25"/>
<rect x="2879" y="995" width="26" height="9" fill="rgb(251,193,35)" fill-opacity="0.25"/>
<rect x="2905" y="995" width="28" height="9" fill="rgb(21,146,230)" fill-opacity="0.25"/>
<rect x="2825" y="1005" width="59" height="8" fill="rgb(251,193,35)" fill-opacity="0.25"/>
<rect x="2884" y="1005" width="49" height="8" fill="rgb(21,146,230)" fill-opacity="0.25"/>
<rect x="2862" y="1014" width="37" height="9" fill="rgb(251,193,35)" fill-opacity="0.25"/>
<rect x="2899" y="1014" width="34" height="9" fill="rgb(21,146,230)" fill-opacity="0.25"/>
<rect x="2862" y="1024" width="38" height="8" fill="rgb(251,193,35)" fill-opacity="0.25"/>
<rect x="2900" y="1024" width="33" height="8" fill="rgb(21,146,230)" fill-opacity="0.25"/>
<rect x="2895" y="1033" width="15" height="9" fill="rgb(251,193,35)" fill-opacity="0.25"/>
<rect x="2910" y="1033" width="23" height="9" fill="rgb(21,146,230)" fill-opacity="0.25"/>
<rect x="2897" y="1043" width="16" height="8" fill="rgb(251,193,35)" fill-opacity="0.25"/>
<rect x="2913" y="1043" width="20" height="8" fill="rgb(21,146,230)" fill-opacity="0.25"/>
<rect x="2892" y="1052" width="20" height="9" fill="rgb(251,193,35)" fill-opacity="0.25"/>
<rect x="2912" y="1052" width="21" height="9" fill="rgb(21,146,230)" fill-opacity="0.25"/>
<rect x="2847" y="1062" width="37" height="8" fill="rgb(251,193,35)" fill-opacity="0.25"/>
<rect x="2884" y="1062" width="49" height="8" fill="rgb(21,146,230)" fill-opacity="0.25"/>
<rect x="2900" y="1071" width="22" height="9" fill="rgb(251,193,35)" fill-opacity="0.25"/>
<rect x="2922" y="1071" width="11" height="9" fill="rgb(21,146,230)" fill-opacity="0.25"/>
<rect x="2894" y="1081" width="28" height="8" fill="rgb(251,193,35)" fill-opacity="0.25"/>
<rect x="2922" y="1081" width="11" height="8" fill="rgb(21,146,230)" fill-opacity="0.25"/>
<rect x="2894" y="1090" width="24" height="9" fill="rgb(251,193,35)" fill-opacity="0.25"/>
<rect x="2918" y="1090" width="15" height="9" fill="rgb(21,146,230)" fill-opacity="0.25"/>
<rect x="2926" y="1100" width="5" height="8" fill="rgb(251,193,35)" fill-opacity="0.25"/>
<rect x="2931" y="1100" width="2" height="8" fill="rgb(21,146,230)" fill-opacity="0.25"/>
</g>
<line x1="7" y1="1069.5" x2="2933" y2="1069.5" stroke="#ef5350" stroke-width="1" stroke-dasharray="1 2" shape-rendering="crispEdges"/>
<g shape-rendering="crispEdges">
<rect x="2934" y="44" width="63" height="1188" fill="#fff"/>
<rect x="7" y="1204" width="2990" height="28" fill="#fff"/>
<rect x="6" y="43" width="2992" height="1" fill="#e0e3eb"/>
<rect x="6" y="1232" width="2992" height="1" fill="#e0e3eb"/>
<rect x="6" y="43" width="1" height="1190" fill="#e0e3eb"/>
<rect x="2997" y="43" width="1" height="1190" fill="#e0e3eb"/>
<rect x="2933" y="43" width="1" height="1190" fill="#e0e3eb"/>
<rect x="6" y="1203" width="2992" height="1" fill="#e0e3eb"/>
<rect x="2934" y="1182" width="4" height="1" fill="#e0e3eb"/>
<rect x="2934" y="1144" width="4" height="1" fill="#e0e3eb"/>
<rect x="2934" y="1107" width="4" height="1" fill="#e0e3eb"/>
<rect x="2934" y="1070" width="4" height="1" fill="#e0e3eb"/>
<rect x="2934" y="1033" width="4" height="1" fill="#e0e3eb"/>
<rect x="2934" y="996" width="4" height="1" fill="#e0e3eb"/>
<rect x="2934" y="959" width="4" height="1" fill="#e0e3eb"/>
<rect x="2934" y="922" width="4" height="1" fill="#e0e3eb"/>
<rect x="2934" y="885" width="4" height="1" fill="#e0e3eb"/>
<rect x="2934" y="848" width="4" height="1" fill="#e0e3eb"/>
<rect x="2934" y="811" width="4" height="1" fill="#e0e3eb"/>
<rect x="2934" y="774" width="4" height="1" fill="#e0e3eb"/>
<rect x="2934" y="737" width="4" height="1" fill="#e0e3eb"/>
<rect x="2934" y="700" width="4" height="1" fill="#e0e3eb"/>
<rect x="2934" y="663" width="4" height="1" fill="#e0e3eb"/>
<rect x="2934" y="626" width="4" height="1" fill="#e0e3eb"/>
<rect x="2934" y="589" width="4" height="1" fill="#e0e3eb"/>
<rect x="2934" y="552" width="4" height="1" fill="#e0e3eb"/>
<rect x="2934" y="515" width="4" height="1" fill="#e0e3eb"/>
<rect x="2934" y="478" width="4" height="1" fill="#e0e3eb"/>
<rect x="2934" y="441" width="4" height="1" fill="#e0e3eb"/>
<rect x="2934" y="403" width="4" height="1" fill="#e0e3eb"/>
<rect x="2934" y="366" width="4" height="1" fill="#e0e3eb"/>
<rect x="2934" y="329" width="4" height="1" fill="#e0e3eb"/>
<rect x="2934" y="292" width="4" height="1" fill="#e0e3eb"/>
<rect x="2934" y="255" width="4" height="1" fill="#e0e3eb"/>
<rect x="2934" y="218" width="4" height="1" fill="#e0e3eb"/>
<rect x="2934" y="181" width="4" height="1" fill="#e0e3eb"/>
<rect x="2934" y="144" width="4" height="1" fill="#e0e3eb"/>
<rect x="2934" y="107" width="4" height="1" fill="#e0e3eb"/>
<rect x="2934" y="70" width="4" height="1" fill="#e0e3eb"/>
<rect x="1092" y="1204" width="1" height="3" fill="#e0e3eb"/>
<rect x="1232" y="1204" width="1" height="3" fill="#e0e3eb"/>
<rect x="1352" y="1204" width="1" height="3" fill="#e0e3eb"/>
<rect x="1492" y="1204" width="1" height="3" fill="#e0e3eb"/>
<rect x="1632" y="1204" width="1" height="3" fill="#e0e3eb"/>
<rect x="1712" y="1204" width="1" height="3" fill="#e0e3eb"/>
<rect x="1832" y="1204" width="1" height="3" fill="#e0e3eb"/>
<rect x="1912" y="1204" width="1" height="3" fill="#e0e3eb"/>
<rect x="2052" y="1204" width="1" height="3" fill="#e0e3eb"/>
<rect x="2192" y="1204" width="1" height="3" fill="#e0e3eb"/>
<rect x="2332" y="1204" width="1" height="3" fill="#e0e3eb"/>
<rect x="2452" y="1204" width="1" height="3" fill="#e0e3eb"/>
<rect x="2532" y="1204" width="1" height="3" fill="#e0e3eb"/>
<rect x="2613" y="1204" width="1" height="3" fill="#e0e3eb"/>
<rect x="2753" y="1204" width="1" height="3" fill="#e0e3eb"/>
<rect x="2893" y="1204" width="1" height="3" fill="#e0e3eb"/>
</g>
<g font-size="12.3" fill="#131722">
<text x="2942.1" y="1186.9" textLength="31.6" lengthAdjust="spacingAndGlyphs">13000</text>
<text x="2942.1" y="1148.9" textLength="31.6" lengthAdjust="spacingAndGlyphs">14000</text>
<text x="2942.1" y="1111.9" textLength="31.6" lengthAdjust="spacingAndGlyphs">15000</text>
<text x="2942.1" y="1037.9" textLength="31.6" lengthAdjust="spacingAndGlyphs">17000</text>
<text x="2942.1" y="1000.9" textLength="31.6" lengthAdjust="spacingAndGlyphs">18000</text>
<text x="2942.1" y="963.9" textLength="31.6" lengthAdjust="spacingAndGlyphs">19000</text>
<text x="2942.1" y="926.9" textLength="31.6" lengthAdjust="spacingAndGlyphs">20000</text>
<text x="2942.1" y="889.9" textLength="31.6" lengthAdjust="spacingAndGlyphs">21000</text>
<text x="2942.1" y="852.9" textLength="31.6" lengthAdjust="spacingAndGlyphs">22000</text>
<text x="2942.1" y="815.9" textLength="31.6" lengthAdjust="spacingAndGlyphs">23000</text>
<text x="2942.1" y="778.9" textLength="31.6" lengthAdjust="spacingAndGlyphs">24000</text>
<text x="2942.1" y="741.9" textLength="31.6" lengthAdjust="spacingAndGlyphs">25000</text>
<text x="2942.1" y="704.9" textLength="31.6" lengthAdjust="spacingAndGlyphs">26000</text>
<text x="2942.1" y="667.9" textLength="31.6" lengthAdjust="spacingAndGlyphs">27000</text>
<text x="2942.1" y="630.9" textLength="31.6" lengthAdjust="spacingAndGlyphs">28000</text>
<text x="2942.1" y="593.9" textLength="31.6" lengthAdjust="spacingAndGlyphs">29000</text>
<text x="2942.1" y="556.9" textLength="31.6" lengthAdjust="spacingAndGlyphs">30000</text>
<text x="2942.1" y="519.9" textLength="31.6" lengthAdjust="spacingAndGlyphs">31000</text>
<text x="2942.1" y="482.9" textLength="31.6" lengthAdjust="spacingAndGlyphs">32000</text>
<text x="2942.1" y="445.9" textLength="31.6" lengthAdjust="spacingAndGlyphs">33000</text>
<text x="2942.1" y="407.9" textLength="31.6" lengthAdjust="spacingAndGlyphs">34000</text>
<text x="2942.1" y="370.9" textLength="31.6" lengthAdjust="spacingAndGlyphs">35000</text>
<text x="2942.1" y="333.9" textLength="31.6" lengthAdjust="spacingAndGlyphs">36000</text>
<text x="2942.1" y="296.9" textLength="31.6" lengthAdjust="spacingAndGlyphs">37000</text>
<text x="2942.1" y="259.9" textLength="31.6" lengthAdjust="spacingAndGlyphs">38000</text>
<text x="2942.1" y="222.9" textLength="31.6" lengthAdjust="spacingAndGlyphs">39000</text>
<text x="2942.1" y="185.9" textLength="31.6" lengthAdjust="spacingAndGlyphs">40000</text>
<text x="2942.1" y="148.9" textLength="31.6" lengthAdjust="spacingAndGlyphs">41000</text>
<text x="2942.1" y="111.9" textLength="31.6" lengthAdjust="spacingAndGlyphs">42000</text>
<text x="2942.1" y="74.9" textLength="31.6" lengthAdjust="spacingAndGlyphs">43000</text>
</g>
<g font-size="12.5" fill="#131722" text-anchor="middle">
<text x="1091.5" y="1222.8" textLength="12.3" lengthAdjust="spacingAndGlyphs">25</text>
<text x="1231.6" y="1222.8" font-weight="bold" textLength="20.4" lengthAdjust="spacingAndGlyphs">Sep</text>
<text x="1351.7" y="1222.8" textLength="6.2" lengthAdjust="spacingAndGlyphs">7</text>
<text x="1491.8" y="1222.8" textLength="12.3" lengthAdjust="spacingAndGlyphs">14</text>
<text x="1631.9" y="1222.8" textLength="12.3" lengthAdjust="spacingAndGlyphs">21</text>
<text x="1711.9" y="1222.8" textLength="12.3" lengthAdjust="spacingAndGlyphs">25</text>
<text x="1832.0" y="1222.8" font-weight="bold" textLength="19.6" lengthAdjust="spacingAndGlyphs">Oct</text>
<text x="1912.1" y="1222.8" textLength="6.2" lengthAdjust="spacingAndGlyphs">5</text>
<text x="2052.2" y="1222.8" textLength="12.3" lengthAdjust="spacingAndGlyphs">12</text>
<text x="2192.2" y="1222.8" textLength="12.3" lengthAdjust="spacingAndGlyphs">19</text>
<text x="2332.3" y="1222.8" textLength="12.3" lengthAdjust="spacingAndGlyphs">26</text>
<text x="2452.4" y="1222.8" font-weight="bold" textLength="21.6" lengthAdjust="spacingAndGlyphs">Nov</text>
<text x="2532.5" y="1222.8" textLength="6.2" lengthAdjust="spacingAndGlyphs">5</text>
<text x="2612.5" y="1222.8" textLength="6.2" lengthAdjust="spacingAndGlyphs">9</text>
<text x="2752.6" y="1222.8" textLength="12.3" lengthAdjust="spacingAndGlyphs">16</text>
<text x="2892.7" y="1222.8" textLength="12.3" lengthAdjust="spacingAndGlyphs">23</text>
</g>
<rect x="2949.5" y="50.5" width="31" height="19" rx="4" fill="#fff" stroke="#e0e3eb"/>
<text x="2954.8" y="62.8" font-size="12" fill="#131722" textLength="20.2" lengthAdjust="spacingAndGlyphs">USD</text>
<g shape-rendering="crispEdges"><rect x="2933" y="1060" width="49" height="19" fill="#ef5350"/><rect x="2934" y="1080" width="59" height="19" fill="#ef5350"/><rect x="2933" y="1069" width="4" height="1" fill="#fff"/></g>
<text x="2942.1" y="1073.9" font-size="12.3" fill="#fff" textLength="31.6" lengthAdjust="spacingAndGlyphs">16025</text>
<text x="2937.7" y="1094" font-size="12.3" fill="#fff" textLength="47" lengthAdjust="spacingAndGlyphs">03:22:10</text>
<g font-size="13" fill="#131722">
<text x="6.6" y="17.2" textLength="55.5" lengthAdjust="spacingAndGlyphs" font-weight="bold">heussepa</text>
<text x="66.6" y="17.2" textLength="51.5" lengthAdjust="spacingAndGlyphs">published</text>
<text x="122.6" y="17.2" textLength="13.2" lengthAdjust="spacingAndGlyphs">on</text>
<text x="139.3" y="17.2" textLength="101.9" lengthAdjust="spacingAndGlyphs">TradingView.com,</text>
<text x="245.6" y="17.2" textLength="44.4" lengthAdjust="spacingAndGlyphs">October</text>
<text x="295" y="17.2" textLength="15.6" lengthAdjust="spacingAndGlyphs">20,</text>
<text x="315.7" y="17.2" textLength="26.7" lengthAdjust="spacingAndGlyphs">2020</text>
<text x="346.5" y="17.2" textLength="48.4" lengthAdjust="spacingAndGlyphs">06:37:51</text>
<text x="399.5" y="17.2" textLength="26.2" lengthAdjust="spacingAndGlyphs">CEST</text>
<text x="6.6" y="33.8" textLength="139.2" lengthAdjust="spacingAndGlyphs" font-weight="bold">FTX:UNISWAPPERP, 240</text>
<text x="151.4" y="33.8" textLength="33.8" lengthAdjust="spacingAndGlyphs">16025</text>
<text x="202.9" y="33.8" textLength="80.5" lengthAdjust="spacingAndGlyphs">−175 (−1.08%)</text>
<text x="288.4" y="33.8" textLength="11.6" lengthAdjust="spacingAndGlyphs" font-weight="bold">O:</text>
<text x="302.6" y="33.8" textLength="33.8" lengthAdjust="spacingAndGlyphs" fill="#ef5350">16050</text>
<text x="341.4" y="33.8" textLength="11.6" lengthAdjust="spacingAndGlyphs" font-weight="bold">H:</text>
<text x="355.6" y="33.8" textLength="33.8" lengthAdjust="spacingAndGlyphs" fill="#ef5350">16125</text>
<text x="394.4" y="33.8" textLength="8.6" lengthAdjust="spacingAndGlyphs" font-weight="bold">L:</text>
<text x="405.5" y="33.8" textLength="33.8" lengthAdjust="spacingAndGlyphs" fill="#ef5350">16025</text>
<text x="443.9" y="33.8" textLength="10.2" lengthAdjust="spacingAndGlyphs" font-weight="bold">C:</text>
<text x="456.5" y="33.8" textLength="33.8" lengthAdjust="spacingAndGlyphs" fill="#ef5350">16025</text>
</g>
<polygon points="188.7,25.3 199.3,25.3 194,34.6" fill="#ef5350"/>
<g transform="translate(5.9,1243)">
<path d="M6.2 15.3 C2.6 15.3 0 13.1 0 10.2 C0 7.6 2 5.6 4.8 5.2 C5.6 2.2 8 0 11 0 C13.6 0 15.8 1.6 16.8 4.2 C17.6 3.9 18.4 3.8 19.2 3.8 C22 3.8 23.8 5.6 24.3 8 C25.5 8.8 26.1 10 26.1 11.4 C26.1 13.7 24.3 15.3 22 15.3 Z" fill="#2196f3"/>
<polyline points="1,12.6 10,5.6 16,11.6 22,5" fill="none" stroke="#fff" stroke-opacity="0.8" stroke-width="1.1" stroke-linejoin="round"/>
<circle cx="10" cy="5.6" r="1.9" fill="#fff"/><circle cx="16" cy="11.6" r="1.9" fill="#fff"/>
</g>
<text x="34.1" y="1255" font-size="13" fill="#131722" textLength="70.9" lengthAdjust="spacingAndGlyphs">TradingView</text>
</svg></body></html>
